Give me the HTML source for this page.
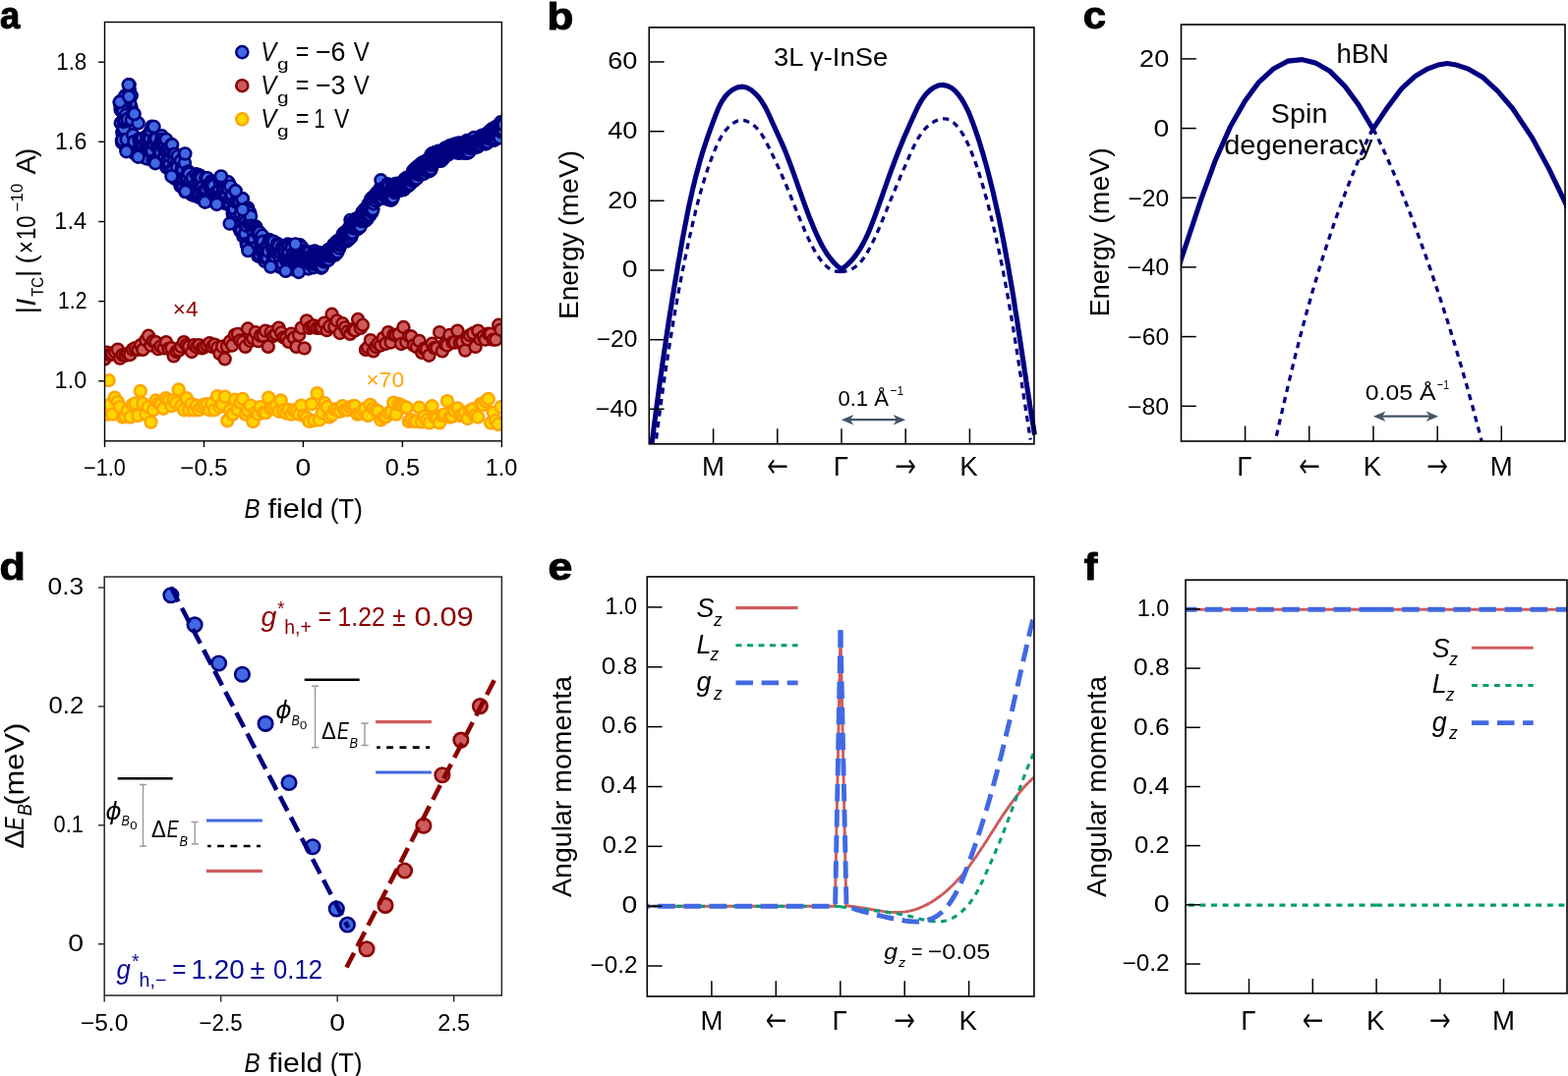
<!DOCTYPE html>
<html lang="en"><head><meta charset="utf-8"><title>Figure</title>
<style>
html,body{margin:0;padding:0;background:#fff}
svg{display:block;font-family:"Liberation Sans",Arial,sans-serif}
.i{font-style:italic}
.b{font-weight:bold}
.cb{fill:#4169e1;stroke:#000080;stroke-width:2.6}
.cr{fill:#cd5c5c;stroke:#8b0000;stroke-width:2.5}
.cy{fill:#ffd700;stroke:#ffa500;stroke-width:2.5}
</style></head>
<body>
<svg width="1595" height="1095" viewBox="0 0 1595 1095">
<rect width="1595" height="1095" fill="#fff"/>
<defs>
<clipPath id="ca"><rect x="106.5" y="22.5" width="403.9" height="426.3"/></clipPath>
<clipPath id="cb"><rect x="660.3" y="27.9" width="394.5" height="423.9"/></clipPath>
<clipPath id="cc"><rect x="1200.8" y="25.3" width="392" height="423.7"/></clipPath>
<clipPath id="ce"><rect x="658.5" y="586.7" width="393.4" height="427.3"/></clipPath>
<clipPath id="cf"><rect x="1206" y="590.1" width="387.8" height="420.8"/></clipPath>
</defs>
<g id="panel-a">
<g clip-path="url(#ca)">
<g class="cy"><circle cx="109.4" cy="421.6" r="5.95"/><circle cx="111.5" cy="411.9" r="5.95"/><circle cx="114.5" cy="421.6" r="5.95"/><circle cx="116.7" cy="404.6" r="5.95"/><circle cx="119.8" cy="409.1" r="5.95"/><circle cx="122.1" cy="414.1" r="5.95"/><circle cx="124.7" cy="424.5" r="5.95"/><circle cx="127.2" cy="423.6" r="5.95"/><circle cx="129.8" cy="417.8" r="5.95"/><circle cx="132.6" cy="424.5" r="5.95"/><circle cx="134.8" cy="411.9" r="5.95"/><circle cx="137.5" cy="410.4" r="5.95"/><circle cx="140.4" cy="423" r="5.95"/><circle cx="142.8" cy="398" r="5.95"/><circle cx="145.4" cy="410.7" r="5.95"/><circle cx="148.4" cy="421.1" r="5.95"/><circle cx="150.9" cy="414.1" r="5.95"/><circle cx="153.5" cy="429.6" r="5.95"/><circle cx="156" cy="417.2" r="5.95"/><circle cx="158.5" cy="407.5" r="5.95"/><circle cx="161.4" cy="410.4" r="5.95"/><circle cx="163.7" cy="411.6" r="5.95"/><circle cx="166.2" cy="415.7" r="5.95"/><circle cx="168.8" cy="405.3" r="5.95"/><circle cx="171.5" cy="407.4" r="5.95"/><circle cx="174.4" cy="413.2" r="5.95"/><circle cx="176.6" cy="407.3" r="5.95"/><circle cx="179.2" cy="409.9" r="5.95"/><circle cx="181.7" cy="396.5" r="5.95"/><circle cx="184.4" cy="413" r="5.95"/><circle cx="187.1" cy="417.2" r="5.95"/><circle cx="189.7" cy="405.3" r="5.95"/><circle cx="192.3" cy="417.2" r="5.95"/><circle cx="194.7" cy="411.1" r="5.95"/><circle cx="197.4" cy="417.2" r="5.95"/><circle cx="200.1" cy="412.6" r="5.95"/><circle cx="202.5" cy="417.2" r="5.95"/><circle cx="205.1" cy="413.8" r="5.95"/><circle cx="207.7" cy="411.6" r="5.95"/><circle cx="210.7" cy="411.2" r="5.95"/><circle cx="213.2" cy="417.2" r="5.95"/><circle cx="215.6" cy="410.6" r="5.95"/><circle cx="218.2" cy="417.2" r="5.95"/><circle cx="221.1" cy="403.1" r="5.95"/><circle cx="223.5" cy="414.1" r="5.95"/><circle cx="226" cy="411.6" r="5.95"/><circle cx="228.9" cy="403.8" r="5.95"/><circle cx="231.3" cy="428.2" r="5.95"/><circle cx="233.9" cy="417.5" r="5.95"/><circle cx="236.8" cy="421.6" r="5.95"/><circle cx="239.1" cy="406.8" r="5.95"/><circle cx="241.7" cy="416.8" r="5.95"/><circle cx="244.4" cy="409.8" r="5.95"/><circle cx="246.8" cy="406" r="5.95"/><circle cx="249.7" cy="421.6" r="5.95"/><circle cx="251.9" cy="417.8" r="5.95"/><circle cx="254.8" cy="412.6" r="5.95"/><circle cx="257.4" cy="428.9" r="5.95"/><circle cx="259.8" cy="419.6" r="5.95"/><circle cx="262.4" cy="421.6" r="5.95"/><circle cx="264.8" cy="414.1" r="5.95"/><circle cx="268" cy="420" r="5.95"/><circle cx="270.2" cy="420.1" r="5.95"/><circle cx="273.2" cy="404.6" r="5.95"/><circle cx="275.3" cy="416" r="5.95"/><circle cx="277.8" cy="414.6" r="5.95"/><circle cx="280.8" cy="413.2" r="5.95"/><circle cx="283.6" cy="418.7" r="5.95"/><circle cx="285.7" cy="407.5" r="5.95"/><circle cx="288.2" cy="417.8" r="5.95"/><circle cx="290.9" cy="420.3" r="5.95"/><circle cx="293.6" cy="417" r="5.95"/><circle cx="296.3" cy="421.6" r="5.95"/><circle cx="298.9" cy="417.4" r="5.95"/><circle cx="301.3" cy="419.3" r="5.95"/><circle cx="304.1" cy="421.6" r="5.95"/><circle cx="306.4" cy="412.6" r="5.95"/><circle cx="309.3" cy="423.1" r="5.95"/><circle cx="312.1" cy="425.1" r="5.95"/><circle cx="314.6" cy="428.9" r="5.95"/><circle cx="317" cy="411.2" r="5.95"/><circle cx="319.7" cy="427.9" r="5.95"/><circle cx="322.6" cy="400.2" r="5.95"/><circle cx="324.9" cy="427.4" r="5.95"/><circle cx="327.7" cy="420.2" r="5.95"/><circle cx="330.3" cy="410.2" r="5.95"/><circle cx="332.9" cy="414.1" r="5.95"/><circle cx="335" cy="424.5" r="5.95"/><circle cx="337.7" cy="422.5" r="5.95"/><circle cx="340.4" cy="416.5" r="5.95"/><circle cx="343.2" cy="416.4" r="5.95"/><circle cx="345.8" cy="418.7" r="5.95"/><circle cx="348.4" cy="413.3" r="5.95"/><circle cx="350.6" cy="417.3" r="5.95"/><circle cx="353.4" cy="417.3" r="5.95"/><circle cx="356.2" cy="414.4" r="5.95"/><circle cx="358.9" cy="413.3" r="5.95"/><circle cx="361.1" cy="413.3" r="5.95"/><circle cx="363.6" cy="421.6" r="5.95"/><circle cx="366.5" cy="420.8" r="5.95"/><circle cx="369.2" cy="417.9" r="5.95"/><circle cx="371.5" cy="415.7" r="5.95"/><circle cx="374.4" cy="423" r="5.95"/><circle cx="376.7" cy="411.9" r="5.95"/><circle cx="379.5" cy="415.3" r="5.95"/><circle cx="382.3" cy="417.1" r="5.95"/><circle cx="384.8" cy="418.5" r="5.95"/><circle cx="387.4" cy="427.4" r="5.95"/><circle cx="390.2" cy="424.5" r="5.95"/><circle cx="392.6" cy="424.1" r="5.95"/><circle cx="395.3" cy="420.3" r="5.95"/><circle cx="397.9" cy="418.7" r="5.95"/><circle cx="400.3" cy="409.7" r="5.95"/><circle cx="403" cy="421.6" r="5.95"/><circle cx="405.6" cy="411.3" r="5.95"/><circle cx="408.3" cy="412.4" r="5.95"/><circle cx="410.7" cy="413.7" r="5.95"/><circle cx="413.5" cy="414.8" r="5.95"/><circle cx="415.8" cy="428.9" r="5.95"/><circle cx="418.2" cy="427.2" r="5.95"/><circle cx="421.3" cy="428.9" r="5.95"/><circle cx="423.7" cy="428.9" r="5.95"/><circle cx="426.4" cy="414.8" r="5.95"/><circle cx="428.9" cy="429.3" r="5.95"/><circle cx="431.4" cy="423.8" r="5.95"/><circle cx="433.9" cy="427.5" r="5.95"/><circle cx="436.8" cy="430.4" r="5.95"/><circle cx="439.5" cy="413.3" r="5.95"/><circle cx="442.2" cy="424.5" r="5.95"/><circle cx="444.5" cy="425.8" r="5.95"/><circle cx="447.1" cy="430.4" r="5.95"/><circle cx="449.7" cy="422.7" r="5.95"/><circle cx="452" cy="421.7" r="5.95"/><circle cx="455" cy="408.2" r="5.95"/><circle cx="457.4" cy="424.5" r="5.95"/><circle cx="459.9" cy="423.9" r="5.95"/><circle cx="462.4" cy="418.1" r="5.95"/><circle cx="465.6" cy="415.5" r="5.95"/><circle cx="467.8" cy="423" r="5.95"/><circle cx="470.5" cy="422.2" r="5.95"/><circle cx="472.8" cy="419.9" r="5.95"/><circle cx="475.6" cy="426" r="5.95"/><circle cx="478.3" cy="417.7" r="5.95"/><circle cx="480.7" cy="416.3" r="5.95"/><circle cx="483.3" cy="422.8" r="5.95"/><circle cx="486.2" cy="424.5" r="5.95"/><circle cx="488.9" cy="411.2" r="5.95"/><circle cx="491.1" cy="412.1" r="5.95"/><circle cx="494.1" cy="408.3" r="5.95"/><circle cx="496.8" cy="406" r="5.95"/><circle cx="499.2" cy="430.4" r="5.95"/><circle cx="501.7" cy="419.6" r="5.95"/><circle cx="504.1" cy="427.9" r="5.95"/><circle cx="506.7" cy="431.8" r="5.95"/><circle cx="509.7" cy="414.1" r="5.95"/><circle cx="110.6" cy="387.1" r="5.95"/></g>
<g class="cr"><circle cx="106.5" cy="365.3" r="5.95"/><circle cx="108.9" cy="358.6" r="5.95"/><circle cx="111.9" cy="361.1" r="5.95"/><circle cx="114.2" cy="360.2" r="5.95"/><circle cx="117.1" cy="358.1" r="5.95"/><circle cx="119.8" cy="355.6" r="5.95"/><circle cx="122" cy="364.6" r="5.95"/><circle cx="124.6" cy="361.1" r="5.95"/><circle cx="127.6" cy="361.7" r="5.95"/><circle cx="130" cy="360" r="5.95"/><circle cx="132.3" cy="361" r="5.95"/><circle cx="134.9" cy="355.6" r="5.95"/><circle cx="137.5" cy="354.1" r="5.95"/><circle cx="140.5" cy="355.7" r="5.95"/><circle cx="143.1" cy="351.2" r="5.95"/><circle cx="145.3" cy="355.8" r="5.95"/><circle cx="148.3" cy="346.2" r="5.95"/><circle cx="151" cy="341.8" r="5.95"/><circle cx="153.4" cy="351.5" r="5.95"/><circle cx="155.8" cy="347.2" r="5.95"/><circle cx="158.5" cy="348.2" r="5.95"/><circle cx="160.9" cy="355.1" r="5.95"/><circle cx="163.4" cy="352.5" r="5.95"/><circle cx="166.6" cy="354.4" r="5.95"/><circle cx="169" cy="348.2" r="5.95"/><circle cx="171.5" cy="354.9" r="5.95"/><circle cx="174.4" cy="354.2" r="5.95"/><circle cx="176.7" cy="362.4" r="5.95"/><circle cx="179.5" cy="357.8" r="5.95"/><circle cx="182.1" cy="356.4" r="5.95"/><circle cx="184.3" cy="352.8" r="5.95"/><circle cx="187" cy="348.2" r="5.95"/><circle cx="189.6" cy="351.2" r="5.95"/><circle cx="192.1" cy="352.8" r="5.95"/><circle cx="195" cy="358" r="5.95"/><circle cx="197.4" cy="351.2" r="5.95"/><circle cx="200.1" cy="353.2" r="5.95"/><circle cx="202.5" cy="351.2" r="5.95"/><circle cx="205.5" cy="354.4" r="5.95"/><circle cx="207.8" cy="353.2" r="5.95"/><circle cx="210.5" cy="351.3" r="5.95"/><circle cx="213.2" cy="349.1" r="5.95"/><circle cx="215.9" cy="352.8" r="5.95"/><circle cx="218.3" cy="350.7" r="5.95"/><circle cx="221.2" cy="353.9" r="5.95"/><circle cx="223.5" cy="359.9" r="5.95"/><circle cx="226.1" cy="352.7" r="5.95"/><circle cx="228.7" cy="365.3" r="5.95"/><circle cx="231" cy="352.6" r="5.95"/><circle cx="233.9" cy="347.5" r="5.95"/><circle cx="236.3" cy="351.5" r="5.95"/><circle cx="238.8" cy="341" r="5.95"/><circle cx="241.9" cy="339.9" r="5.95"/><circle cx="244.1" cy="346.5" r="5.95"/><circle cx="246.9" cy="348" r="5.95"/><circle cx="249.6" cy="352.8" r="5.95"/><circle cx="252.1" cy="334.5" r="5.95"/><circle cx="254.6" cy="347" r="5.95"/><circle cx="257.3" cy="344.3" r="5.95"/><circle cx="259.9" cy="338.2" r="5.95"/><circle cx="262.7" cy="347.1" r="5.95"/><circle cx="264.9" cy="341.7" r="5.95"/><circle cx="267.7" cy="341.6" r="5.95"/><circle cx="270.1" cy="336.6" r="5.95"/><circle cx="272.8" cy="352.8" r="5.95"/><circle cx="275.7" cy="338" r="5.95"/><circle cx="278.1" cy="341.8" r="5.95"/><circle cx="280.7" cy="339.8" r="5.95"/><circle cx="283.5" cy="333.7" r="5.95"/><circle cx="286.1" cy="338.5" r="5.95"/><circle cx="288.5" cy="343.4" r="5.95"/><circle cx="291.2" cy="344.2" r="5.95"/><circle cx="293.7" cy="347.8" r="5.95"/><circle cx="296.3" cy="339.6" r="5.95"/><circle cx="299" cy="343.8" r="5.95"/><circle cx="301.5" cy="352.8" r="5.95"/><circle cx="304.1" cy="341" r="5.95"/><circle cx="306.7" cy="333.7" r="5.95"/><circle cx="309.6" cy="354.4" r="5.95"/><circle cx="312" cy="326.4" r="5.95"/><circle cx="314.7" cy="333.8" r="5.95"/><circle cx="317.4" cy="332.3" r="5.95"/><circle cx="319.6" cy="331.5" r="5.95"/><circle cx="322.3" cy="333.8" r="5.95"/><circle cx="325.2" cy="333.6" r="5.95"/><circle cx="327.7" cy="333.8" r="5.95"/><circle cx="329.9" cy="328.6" r="5.95"/><circle cx="332.5" cy="336.1" r="5.95"/><circle cx="335.3" cy="332.2" r="5.95"/><circle cx="337.6" cy="319.8" r="5.95"/><circle cx="340.3" cy="332.5" r="5.95"/><circle cx="342.8" cy="326.5" r="5.95"/><circle cx="345.8" cy="339" r="5.95"/><circle cx="348.5" cy="329.3" r="5.95"/><circle cx="351.1" cy="333.4" r="5.95"/><circle cx="353.3" cy="337.5" r="5.95"/><circle cx="356.2" cy="339.8" r="5.95"/><circle cx="358.8" cy="335.2" r="5.95"/><circle cx="361.1" cy="336.3" r="5.95"/><circle cx="364.1" cy="325" r="5.95"/><circle cx="366.8" cy="333.9" r="5.95"/><circle cx="368.9" cy="330.8" r="5.95"/><circle cx="372" cy="355.8" r="5.95"/><circle cx="374.2" cy="353.5" r="5.95"/><circle cx="376.9" cy="346.1" r="5.95"/><circle cx="379.8" cy="357.3" r="5.95"/><circle cx="382.3" cy="352.8" r="5.95"/><circle cx="384.5" cy="349.8" r="5.95"/><circle cx="387.3" cy="351.5" r="5.95"/><circle cx="389.9" cy="343.9" r="5.95"/><circle cx="392.4" cy="349.7" r="5.95"/><circle cx="394.9" cy="338.1" r="5.95"/><circle cx="397.6" cy="348.5" r="5.95"/><circle cx="400.4" cy="340.7" r="5.95"/><circle cx="402.6" cy="341" r="5.95"/><circle cx="405.5" cy="340.2" r="5.95"/><circle cx="408.1" cy="350" r="5.95"/><circle cx="410.4" cy="333" r="5.95"/><circle cx="413.2" cy="348.1" r="5.95"/><circle cx="416" cy="342" r="5.95"/><circle cx="418.5" cy="342.5" r="5.95"/><circle cx="420.8" cy="351.5" r="5.95"/><circle cx="424" cy="353.2" r="5.95"/><circle cx="426.5" cy="346.9" r="5.95"/><circle cx="429.2" cy="358.8" r="5.95"/><circle cx="431.3" cy="354.9" r="5.95"/><circle cx="434" cy="355.4" r="5.95"/><circle cx="436.4" cy="361.7" r="5.95"/><circle cx="439.5" cy="349.8" r="5.95"/><circle cx="441.8" cy="354.1" r="5.95"/><circle cx="444.3" cy="354.1" r="5.95"/><circle cx="447.1" cy="338.1" r="5.95"/><circle cx="449.9" cy="357.3" r="5.95"/><circle cx="452.5" cy="350" r="5.95"/><circle cx="454.8" cy="351.4" r="5.95"/><circle cx="457.3" cy="341" r="5.95"/><circle cx="460.4" cy="348.5" r="5.95"/><circle cx="462.7" cy="348.5" r="5.95"/><circle cx="465.4" cy="336.6" r="5.95"/><circle cx="467.7" cy="348.9" r="5.95"/><circle cx="470.2" cy="348.2" r="5.95"/><circle cx="473.2" cy="356.6" r="5.95"/><circle cx="475.7" cy="345.4" r="5.95"/><circle cx="478" cy="341.2" r="5.95"/><circle cx="481.2" cy="339.3" r="5.95"/><circle cx="483.6" cy="352.9" r="5.95"/><circle cx="486.3" cy="336.6" r="5.95"/><circle cx="488.5" cy="345.1" r="5.95"/><circle cx="491.5" cy="342.5" r="5.95"/><circle cx="493.6" cy="345.6" r="5.95"/><circle cx="496.7" cy="339.6" r="5.95"/><circle cx="499.1" cy="339.9" r="5.95"/><circle cx="501.6" cy="345.6" r="5.95"/><circle cx="504.3" cy="345.6" r="5.95"/><circle cx="507.2" cy="330.8" r="5.95"/><circle cx="509.4" cy="335.6" r="5.95"/></g>
<g class="cb"><circle cx="127.3" cy="111.2" r="5.95"/><circle cx="124.6" cy="113.7" r="5.95"/><circle cx="131.6" cy="113.8" r="5.95"/><circle cx="127.1" cy="135.9" r="5.95"/><circle cx="129" cy="148.9" r="5.95"/><circle cx="128.4" cy="122.5" r="5.95"/><circle cx="129.9" cy="112.1" r="5.95"/><circle cx="133.3" cy="120.1" r="5.95"/><circle cx="127.2" cy="135.8" r="5.95"/><circle cx="124.3" cy="134.7" r="5.95"/><circle cx="132.7" cy="118.3" r="5.95"/><circle cx="133.9" cy="128" r="5.95"/><circle cx="131.8" cy="124.9" r="5.95"/><circle cx="127.3" cy="114.7" r="5.95"/><circle cx="122.6" cy="111.4" r="5.95"/><circle cx="134.4" cy="128.2" r="5.95"/><circle cx="128" cy="146.9" r="5.95"/><circle cx="129.8" cy="150.8" r="5.95"/><circle cx="126.8" cy="112" r="5.95"/><circle cx="133.5" cy="109.2" r="5.95"/><circle cx="132" cy="131.4" r="5.95"/><circle cx="134.3" cy="149.1" r="5.95"/><circle cx="130.4" cy="102.9" r="5.95"/><circle cx="122.8" cy="125.2" r="5.95"/><circle cx="132.3" cy="105.1" r="5.95"/><circle cx="127.6" cy="105.4" r="5.95"/><circle cx="126.2" cy="101.3" r="5.95"/><circle cx="126.5" cy="127.7" r="5.95"/><circle cx="124.9" cy="141.1" r="5.95"/><circle cx="123.2" cy="111.8" r="5.95"/><circle cx="125.6" cy="121.6" r="5.95"/><circle cx="131.7" cy="119" r="5.95"/><circle cx="130.8" cy="148" r="5.95"/><circle cx="124.1" cy="145.1" r="5.95"/><circle cx="129.7" cy="139.1" r="5.95"/><circle cx="129.8" cy="121.8" r="5.95"/><circle cx="123.7" cy="108.3" r="5.95"/><circle cx="124.6" cy="110.1" r="5.95"/><circle cx="124.2" cy="111.6" r="5.95"/><circle cx="129.2" cy="140.3" r="5.95"/><circle cx="132.1" cy="144.2" r="5.95"/><circle cx="123.9" cy="142.9" r="5.95"/><circle cx="124.7" cy="104.7" r="5.95"/><circle cx="126" cy="130.9" r="5.95"/><circle cx="123.1" cy="112" r="5.95"/><circle cx="121.7" cy="104.3" r="5.95"/><circle cx="122" cy="103.8" r="5.95"/><circle cx="122.3" cy="104.7" r="5.95"/><circle cx="122.9" cy="109.3" r="5.95"/><circle cx="123.6" cy="102.3" r="5.95"/><circle cx="124.1" cy="111.5" r="5.95"/><circle cx="124.6" cy="142.7" r="5.95"/><circle cx="124.9" cy="108.8" r="5.95"/><circle cx="125.5" cy="113.5" r="5.95"/><circle cx="125.9" cy="123.9" r="5.95"/><circle cx="126.7" cy="120" r="5.95"/><circle cx="126.9" cy="122.3" r="5.95"/><circle cx="127.4" cy="97.3" r="5.95"/><circle cx="128.2" cy="116.8" r="5.95"/><circle cx="128.4" cy="152.4" r="5.95"/><circle cx="128.8" cy="141.9" r="5.95"/><circle cx="129.5" cy="121.2" r="5.95"/><circle cx="129.9" cy="121.2" r="5.95"/><circle cx="130.5" cy="152.7" r="5.95"/><circle cx="130.9" cy="94.5" r="5.95"/><circle cx="131.6" cy="86.3" r="5.95"/><circle cx="131.9" cy="91.8" r="5.95"/><circle cx="132.4" cy="153.7" r="5.95"/><circle cx="133" cy="97.3" r="5.95"/><circle cx="133.7" cy="97.3" r="5.95"/><circle cx="133.9" cy="121.7" r="5.95"/><circle cx="134.5" cy="154.7" r="5.95"/><circle cx="135.2" cy="137.3" r="5.95"/><circle cx="135.4" cy="115.3" r="5.95"/><circle cx="136" cy="146.2" r="5.95"/><circle cx="136.5" cy="144" r="5.95"/><circle cx="137.1" cy="155.9" r="5.95"/><circle cx="137.4" cy="156.2" r="5.95"/><circle cx="137.9" cy="156.5" r="5.95"/><circle cx="138.6" cy="154.3" r="5.95"/><circle cx="139" cy="156.6" r="5.95"/><circle cx="139.6" cy="157.7" r="5.95"/><circle cx="140" cy="157.7" r="5.95"/><circle cx="140.6" cy="125.3" r="5.95"/><circle cx="141.1" cy="155.5" r="5.95"/><circle cx="141.4" cy="141.4" r="5.95"/><circle cx="141.9" cy="143.5" r="5.95"/><circle cx="142.4" cy="145" r="5.95"/><circle cx="143" cy="148.5" r="5.95"/><circle cx="143.4" cy="143.1" r="5.95"/><circle cx="144.1" cy="145.1" r="5.95"/><circle cx="144.7" cy="144.5" r="5.95"/><circle cx="145.1" cy="141.1" r="5.95"/><circle cx="145.4" cy="148.2" r="5.95"/><circle cx="145.9" cy="157.6" r="5.95"/><circle cx="146.4" cy="154" r="5.95"/><circle cx="147" cy="156.6" r="5.95"/><circle cx="147.4" cy="160.6" r="5.95"/><circle cx="148.1" cy="145.5" r="5.95"/><circle cx="148.7" cy="157.1" r="5.95"/><circle cx="149" cy="143" r="5.95"/><circle cx="149.3" cy="138.3" r="5.95"/><circle cx="150.1" cy="161.6" r="5.95"/><circle cx="150.3" cy="149.3" r="5.95"/><circle cx="151.1" cy="151.2" r="5.95"/><circle cx="151.7" cy="137.3" r="5.95"/><circle cx="152.2" cy="153.6" r="5.95"/><circle cx="152.6" cy="141.5" r="5.95"/><circle cx="153" cy="154.1" r="5.95"/><circle cx="153.3" cy="132.7" r="5.95"/><circle cx="154.1" cy="153.6" r="5.95"/><circle cx="154.5" cy="128.7" r="5.95"/><circle cx="154.9" cy="154.1" r="5.95"/><circle cx="155.7" cy="163.4" r="5.95"/><circle cx="156.1" cy="145.4" r="5.95"/><circle cx="156.6" cy="146.6" r="5.95"/><circle cx="156.9" cy="141.3" r="5.95"/><circle cx="157.5" cy="163.7" r="5.95"/><circle cx="158" cy="141.9" r="5.95"/><circle cx="158.5" cy="163.9" r="5.95"/><circle cx="158.9" cy="141" r="5.95"/><circle cx="159.6" cy="164" r="5.95"/><circle cx="159.9" cy="149.9" r="5.95"/><circle cx="160.6" cy="150" r="5.95"/><circle cx="160.9" cy="160.3" r="5.95"/><circle cx="161.6" cy="149.7" r="5.95"/><circle cx="161.9" cy="148" r="5.95"/><circle cx="162.5" cy="156.5" r="5.95"/><circle cx="163" cy="152.1" r="5.95"/><circle cx="163.4" cy="155" r="5.95"/><circle cx="163.9" cy="143.9" r="5.95"/><circle cx="164.6" cy="138.3" r="5.95"/><circle cx="164.8" cy="142" r="5.95"/><circle cx="165.4" cy="164.7" r="5.95"/><circle cx="166.1" cy="144.5" r="5.95"/><circle cx="166.5" cy="151" r="5.95"/><circle cx="166.9" cy="148.8" r="5.95"/><circle cx="167.6" cy="158.5" r="5.95"/><circle cx="168.2" cy="147.8" r="5.95"/><circle cx="168.4" cy="153.6" r="5.95"/><circle cx="169" cy="141.9" r="5.95"/><circle cx="169.4" cy="170.3" r="5.95"/><circle cx="170" cy="152.6" r="5.95"/><circle cx="170.6" cy="163.3" r="5.95"/><circle cx="171.1" cy="152.5" r="5.95"/><circle cx="171.5" cy="168.4" r="5.95"/><circle cx="172.2" cy="150.1" r="5.95"/><circle cx="172.6" cy="166.9" r="5.95"/><circle cx="172.9" cy="159.1" r="5.95"/><circle cx="173.5" cy="173.6" r="5.95"/><circle cx="173.9" cy="154.9" r="5.95"/><circle cx="174.4" cy="147.3" r="5.95"/><circle cx="175.1" cy="147.3" r="5.95"/><circle cx="175.6" cy="177.7" r="5.95"/><circle cx="176.1" cy="157.2" r="5.95"/><circle cx="176.4" cy="171.5" r="5.95"/><circle cx="177" cy="163.1" r="5.95"/><circle cx="177.6" cy="181.2" r="5.95"/><circle cx="178.1" cy="156.7" r="5.95"/><circle cx="178.6" cy="182.2" r="5.95"/><circle cx="179" cy="167.4" r="5.95"/><circle cx="179.7" cy="179.3" r="5.95"/><circle cx="180" cy="170" r="5.95"/><circle cx="180.3" cy="170.4" r="5.95"/><circle cx="180.9" cy="158.9" r="5.95"/><circle cx="181.3" cy="179.2" r="5.95"/><circle cx="182" cy="178.3" r="5.95"/><circle cx="182.5" cy="182.1" r="5.95"/><circle cx="183" cy="176.7" r="5.95"/><circle cx="183.6" cy="189.4" r="5.95"/><circle cx="184" cy="163.5" r="5.95"/><circle cx="184.4" cy="184.3" r="5.95"/><circle cx="185" cy="171" r="5.95"/><circle cx="185.3" cy="187.4" r="5.95"/><circle cx="186.1" cy="172.7" r="5.95"/><circle cx="186.4" cy="189.4" r="5.95"/><circle cx="186.9" cy="182.2" r="5.95"/><circle cx="187.6" cy="157.1" r="5.95"/><circle cx="187.9" cy="165.8" r="5.95"/><circle cx="188.4" cy="195.1" r="5.95"/><circle cx="188.9" cy="179.8" r="5.95"/><circle cx="189.6" cy="187.4" r="5.95"/><circle cx="190.2" cy="186.6" r="5.95"/><circle cx="190.6" cy="180.8" r="5.95"/><circle cx="191" cy="188.3" r="5.95"/><circle cx="191.5" cy="174.4" r="5.95"/><circle cx="191.8" cy="188.8" r="5.95"/><circle cx="192.3" cy="176.7" r="5.95"/><circle cx="193.1" cy="195" r="5.95"/><circle cx="193.4" cy="186" r="5.95"/><circle cx="194.1" cy="193.8" r="5.95"/><circle cx="194.6" cy="197.7" r="5.95"/><circle cx="195.1" cy="189.2" r="5.95"/><circle cx="195.5" cy="198" r="5.95"/><circle cx="195.9" cy="180.5" r="5.95"/><circle cx="196.7" cy="198.4" r="5.95"/><circle cx="197.1" cy="189.7" r="5.95"/><circle cx="197.5" cy="198.8" r="5.95"/><circle cx="197.9" cy="193.8" r="5.95"/><circle cx="198.7" cy="199.1" r="5.95"/><circle cx="198.9" cy="192.1" r="5.95"/><circle cx="199.4" cy="177.3" r="5.95"/><circle cx="200.1" cy="190.8" r="5.95"/><circle cx="200.6" cy="199.7" r="5.95"/><circle cx="201.1" cy="193.4" r="5.95"/><circle cx="201.6" cy="200.4" r="5.95"/><circle cx="201.9" cy="178.1" r="5.95"/><circle cx="202.4" cy="198.4" r="5.95"/><circle cx="203.2" cy="183.5" r="5.95"/><circle cx="203.5" cy="192.2" r="5.95"/><circle cx="203.8" cy="179" r="5.95"/><circle cx="204.7" cy="201.7" r="5.95"/><circle cx="204.9" cy="180.8" r="5.95"/><circle cx="205.5" cy="200.9" r="5.95"/><circle cx="205.8" cy="190.7" r="5.95"/><circle cx="206.5" cy="202.5" r="5.95"/><circle cx="206.9" cy="201.2" r="5.95"/><circle cx="207.4" cy="203" r="5.95"/><circle cx="207.9" cy="193.6" r="5.95"/><circle cx="208.7" cy="194.1" r="5.95"/><circle cx="209.1" cy="194.7" r="5.95"/><circle cx="209.3" cy="181.3" r="5.95"/><circle cx="209.9" cy="192.5" r="5.95"/><circle cx="210.5" cy="203.9" r="5.95"/><circle cx="210.9" cy="181.2" r="5.95"/><circle cx="211.6" cy="204.2" r="5.95"/><circle cx="211.9" cy="188.2" r="5.95"/><circle cx="212.5" cy="204.3" r="5.95"/><circle cx="212.9" cy="189.1" r="5.95"/><circle cx="213.6" cy="202.2" r="5.95"/><circle cx="214.1" cy="190.1" r="5.95"/><circle cx="214.4" cy="194.1" r="5.95"/><circle cx="215" cy="184.6" r="5.95"/><circle cx="215.4" cy="194.2" r="5.95"/><circle cx="215.8" cy="187" r="5.95"/><circle cx="216.7" cy="197.2" r="5.95"/><circle cx="217.1" cy="189.1" r="5.95"/><circle cx="217.3" cy="203.5" r="5.95"/><circle cx="218" cy="197.6" r="5.95"/><circle cx="218.6" cy="204.5" r="5.95"/><circle cx="219" cy="196.3" r="5.95"/><circle cx="219.6" cy="201.2" r="5.95"/><circle cx="220" cy="205.4" r="5.95"/><circle cx="220.7" cy="205.5" r="5.95"/><circle cx="221.1" cy="202" r="5.95"/><circle cx="221.3" cy="197.6" r="5.95"/><circle cx="222.1" cy="195.2" r="5.95"/><circle cx="222.4" cy="202.1" r="5.95"/><circle cx="223" cy="192.8" r="5.95"/><circle cx="223.5" cy="205.9" r="5.95"/><circle cx="224.1" cy="186.5" r="5.95"/><circle cx="224.3" cy="180.2" r="5.95"/><circle cx="225" cy="198.3" r="5.95"/><circle cx="225.4" cy="206.1" r="5.95"/><circle cx="226.1" cy="199.5" r="5.95"/><circle cx="226.7" cy="186.3" r="5.95"/><circle cx="227" cy="188.1" r="5.95"/><circle cx="227.7" cy="193.1" r="5.95"/><circle cx="228" cy="191" r="5.95"/><circle cx="228.4" cy="198.7" r="5.95"/><circle cx="229" cy="199" r="5.95"/><circle cx="229.6" cy="207.1" r="5.95"/><circle cx="230.1" cy="188.2" r="5.95"/><circle cx="230.3" cy="198" r="5.95"/><circle cx="230.9" cy="191.9" r="5.95"/><circle cx="231.5" cy="207.7" r="5.95"/><circle cx="232.2" cy="192" r="5.95"/><circle cx="232.3" cy="185.3" r="5.95"/><circle cx="233" cy="208.4" r="5.95"/><circle cx="233.4" cy="203.1" r="5.95"/><circle cx="234.1" cy="207.2" r="5.95"/><circle cx="234.5" cy="189.5" r="5.95"/><circle cx="235.1" cy="201.9" r="5.95"/><circle cx="235.4" cy="202.6" r="5.95"/><circle cx="236.2" cy="198.3" r="5.95"/><circle cx="236.7" cy="217.6" r="5.95"/><circle cx="237.1" cy="214.2" r="5.95"/><circle cx="237.4" cy="219.8" r="5.95"/><circle cx="238" cy="207.1" r="5.95"/><circle cx="238.6" cy="212.8" r="5.95"/><circle cx="239" cy="223.1" r="5.95"/><circle cx="239.5" cy="194.3" r="5.95"/><circle cx="240" cy="205.3" r="5.95"/><circle cx="240.3" cy="225.7" r="5.95"/><circle cx="241.1" cy="205.9" r="5.95"/><circle cx="241.5" cy="228.6" r="5.95"/><circle cx="242.1" cy="206.4" r="5.95"/><circle cx="242.6" cy="230.8" r="5.95"/><circle cx="242.9" cy="203.3" r="5.95"/><circle cx="243.7" cy="230.6" r="5.95"/><circle cx="243.8" cy="206.5" r="5.95"/><circle cx="244.5" cy="235.2" r="5.95"/><circle cx="244.8" cy="217.3" r="5.95"/><circle cx="245.7" cy="234.1" r="5.95"/><circle cx="245.8" cy="211.4" r="5.95"/><circle cx="246.7" cy="202.3" r="5.95"/><circle cx="246.8" cy="202.3" r="5.95"/><circle cx="247.5" cy="240.7" r="5.95"/><circle cx="247.8" cy="223.7" r="5.95"/><circle cx="248.6" cy="228.4" r="5.95"/><circle cx="248.9" cy="238.4" r="5.95"/><circle cx="249.5" cy="237.9" r="5.95"/><circle cx="249.8" cy="226" r="5.95"/><circle cx="250.7" cy="248.1" r="5.95"/><circle cx="251.1" cy="229.9" r="5.95"/><circle cx="251.5" cy="250.3" r="5.95"/><circle cx="252" cy="211.5" r="5.95"/><circle cx="252.6" cy="214.1" r="5.95"/><circle cx="253.2" cy="227" r="5.95"/><circle cx="253.6" cy="254.3" r="5.95"/><circle cx="254.2" cy="216.7" r="5.95"/><circle cx="254.5" cy="227.8" r="5.95"/><circle cx="255.1" cy="220.1" r="5.95"/><circle cx="255.5" cy="229.7" r="5.95"/><circle cx="256.2" cy="247.7" r="5.95"/><circle cx="256.6" cy="232.4" r="5.95"/><circle cx="256.8" cy="232.4" r="5.95"/><circle cx="257.5" cy="244" r="5.95"/><circle cx="257.9" cy="236.4" r="5.95"/><circle cx="258.4" cy="243.2" r="5.95"/><circle cx="259.2" cy="230.8" r="5.95"/><circle cx="259.5" cy="251.9" r="5.95"/><circle cx="260" cy="230.4" r="5.95"/><circle cx="260.7" cy="251.9" r="5.95"/><circle cx="260.9" cy="232.8" r="5.95"/><circle cx="261.4" cy="235.3" r="5.95"/><circle cx="262.1" cy="238.2" r="5.95"/><circle cx="262.6" cy="260.7" r="5.95"/><circle cx="263" cy="236" r="5.95"/><circle cx="263.7" cy="255.1" r="5.95"/><circle cx="264" cy="236.7" r="5.95"/><circle cx="264.6" cy="259.9" r="5.95"/><circle cx="264.9" cy="246.4" r="5.95"/><circle cx="265.5" cy="254.4" r="5.95"/><circle cx="265.9" cy="246.6" r="5.95"/><circle cx="266.4" cy="253.3" r="5.95"/><circle cx="266.8" cy="239.7" r="5.95"/><circle cx="267.4" cy="245.8" r="5.95"/><circle cx="268" cy="254.1" r="5.95"/><circle cx="268.5" cy="260.7" r="5.95"/><circle cx="269.2" cy="253.6" r="5.95"/><circle cx="269.4" cy="265.8" r="5.95"/><circle cx="270.2" cy="261.8" r="5.95"/><circle cx="270.5" cy="262.5" r="5.95"/><circle cx="271.1" cy="251" r="5.95"/><circle cx="271.5" cy="257.7" r="5.95"/><circle cx="272.2" cy="262.8" r="5.95"/><circle cx="272.3" cy="250.7" r="5.95"/><circle cx="272.9" cy="250.3" r="5.95"/><circle cx="273.3" cy="255.9" r="5.95"/><circle cx="273.9" cy="243.9" r="5.95"/><circle cx="274.5" cy="244.8" r="5.95"/><circle cx="275.2" cy="244.9" r="5.95"/><circle cx="275.5" cy="269.7" r="5.95"/><circle cx="276" cy="247.3" r="5.95"/><circle cx="276.3" cy="269.5" r="5.95"/><circle cx="277.1" cy="252.6" r="5.95"/><circle cx="277.7" cy="260.8" r="5.95"/><circle cx="277.8" cy="250.4" r="5.95"/><circle cx="278.5" cy="245.8" r="5.95"/><circle cx="278.9" cy="256.8" r="5.95"/><circle cx="279.7" cy="261.6" r="5.95"/><circle cx="280" cy="264.9" r="5.95"/><circle cx="280.3" cy="262.8" r="5.95"/><circle cx="281.1" cy="256.8" r="5.95"/><circle cx="281.3" cy="252.4" r="5.95"/><circle cx="282.1" cy="248" r="5.95"/><circle cx="282.4" cy="257.8" r="5.95"/><circle cx="283.1" cy="249.3" r="5.95"/><circle cx="283.7" cy="249.8" r="5.95"/><circle cx="283.9" cy="257.8" r="5.95"/><circle cx="284.5" cy="271.5" r="5.95"/><circle cx="285" cy="262.6" r="5.95"/><circle cx="285.7" cy="271.7" r="5.95"/><circle cx="286.1" cy="258" r="5.95"/><circle cx="286.6" cy="271.9" r="5.95"/><circle cx="287.2" cy="251.5" r="5.95"/><circle cx="287.5" cy="268.3" r="5.95"/><circle cx="288" cy="254.1" r="5.95"/><circle cx="288.4" cy="252.7" r="5.95"/><circle cx="288.9" cy="261.8" r="5.95"/><circle cx="289.5" cy="256.8" r="5.95"/><circle cx="290" cy="255.6" r="5.95"/><circle cx="290.4" cy="250.2" r="5.95"/><circle cx="291" cy="264.9" r="5.95"/><circle cx="291.7" cy="260" r="5.95"/><circle cx="291.9" cy="263.4" r="5.95"/><circle cx="292.7" cy="248.6" r="5.95"/><circle cx="292.9" cy="263" r="5.95"/><circle cx="293.7" cy="250" r="5.95"/><circle cx="294" cy="257.2" r="5.95"/><circle cx="294.5" cy="264.1" r="5.95"/><circle cx="295" cy="266.5" r="5.95"/><circle cx="295.3" cy="273.7" r="5.95"/><circle cx="295.9" cy="263.5" r="5.95"/><circle cx="296.5" cy="249.3" r="5.95"/><circle cx="297" cy="252.3" r="5.95"/><circle cx="297.3" cy="274" r="5.95"/><circle cx="298.2" cy="260.5" r="5.95"/><circle cx="298.4" cy="264.4" r="5.95"/><circle cx="299.1" cy="257.3" r="5.95"/><circle cx="299.6" cy="269.8" r="5.95"/><circle cx="299.9" cy="264.8" r="5.95"/><circle cx="300" cy="263.7" r="5.95"/><circle cx="300.2" cy="264.5" r="5.95"/><circle cx="300.6" cy="262.4" r="5.95"/><circle cx="300.8" cy="270.4" r="5.95"/><circle cx="301" cy="267.1" r="5.95"/><circle cx="301.1" cy="261.8" r="5.95"/><circle cx="301.2" cy="265.1" r="5.95"/><circle cx="301.6" cy="258.7" r="5.95"/><circle cx="301.6" cy="261.4" r="5.95"/><circle cx="302" cy="256.9" r="5.95"/><circle cx="302.3" cy="250.3" r="5.95"/><circle cx="302.6" cy="258.4" r="5.95"/><circle cx="302.7" cy="260.3" r="5.95"/><circle cx="302.9" cy="252.5" r="5.95"/><circle cx="303.4" cy="260.9" r="5.95"/><circle cx="303.4" cy="264.3" r="5.95"/><circle cx="303.8" cy="257.8" r="5.95"/><circle cx="304" cy="261.1" r="5.95"/><circle cx="304.1" cy="273.7" r="5.95"/><circle cx="304.5" cy="257.5" r="5.95"/><circle cx="304.7" cy="267.1" r="5.95"/><circle cx="305.1" cy="249.3" r="5.95"/><circle cx="305.2" cy="251.9" r="5.95"/><circle cx="305.3" cy="259" r="5.95"/><circle cx="305.5" cy="266.6" r="5.95"/><circle cx="305.6" cy="252.2" r="5.95"/><circle cx="305.8" cy="273.6" r="5.95"/><circle cx="306.5" cy="263.7" r="5.95"/><circle cx="306.6" cy="260.6" r="5.95"/><circle cx="306.9" cy="251.4" r="5.95"/><circle cx="306.9" cy="261.1" r="5.95"/><circle cx="307" cy="254.7" r="5.95"/><circle cx="307.4" cy="257.1" r="5.95"/><circle cx="307.6" cy="261.6" r="5.95"/><circle cx="307.9" cy="260.7" r="5.95"/><circle cx="307.9" cy="264.2" r="5.95"/><circle cx="308.5" cy="262.7" r="5.95"/><circle cx="308.6" cy="261.4" r="5.95"/><circle cx="308.8" cy="262.3" r="5.95"/><circle cx="308.9" cy="266.5" r="5.95"/><circle cx="309.3" cy="258.6" r="5.95"/><circle cx="309.5" cy="263.9" r="5.95"/><circle cx="309.6" cy="268.8" r="5.95"/><circle cx="309.8" cy="265.9" r="5.95"/><circle cx="310.2" cy="260.4" r="5.95"/><circle cx="310.4" cy="263.1" r="5.95"/><circle cx="310.7" cy="262.2" r="5.95"/><circle cx="310.9" cy="264.9" r="5.95"/><circle cx="311" cy="266.7" r="5.95"/><circle cx="311.4" cy="261.3" r="5.95"/><circle cx="311.7" cy="269.8" r="5.95"/><circle cx="311.9" cy="266.5" r="5.95"/><circle cx="312.1" cy="268" r="5.95"/><circle cx="312.2" cy="259.1" r="5.95"/><circle cx="312.5" cy="270.7" r="5.95"/><circle cx="312.6" cy="264.5" r="5.95"/><circle cx="312.9" cy="262.1" r="5.95"/><circle cx="313.2" cy="273.3" r="5.95"/><circle cx="313.6" cy="262" r="5.95"/><circle cx="313.6" cy="259.7" r="5.95"/><circle cx="313.8" cy="273.3" r="5.95"/><circle cx="314.4" cy="256.8" r="5.95"/><circle cx="314.5" cy="266.2" r="5.95"/><circle cx="314.8" cy="265.6" r="5.95"/><circle cx="314.8" cy="256.7" r="5.95"/><circle cx="314.9" cy="262.5" r="5.95"/><circle cx="315.2" cy="268.3" r="5.95"/><circle cx="315.7" cy="263.6" r="5.95"/><circle cx="315.8" cy="260.9" r="5.95"/><circle cx="316" cy="262.4" r="5.95"/><circle cx="316.2" cy="265.5" r="5.95"/><circle cx="316.4" cy="268.2" r="5.95"/><circle cx="316.8" cy="269.2" r="5.95"/><circle cx="316.9" cy="266.6" r="5.95"/><circle cx="317.4" cy="264.5" r="5.95"/><circle cx="317.7" cy="266.3" r="5.95"/><circle cx="317.7" cy="267.4" r="5.95"/><circle cx="318.1" cy="265" r="5.95"/><circle cx="318.3" cy="265.9" r="5.95"/><circle cx="318.6" cy="267.7" r="5.95"/><circle cx="318.8" cy="261.1" r="5.95"/><circle cx="319" cy="272.2" r="5.95"/><circle cx="319.1" cy="261.2" r="5.95"/><circle cx="319.2" cy="267.2" r="5.95"/><circle cx="319.7" cy="265" r="5.95"/><circle cx="319.9" cy="269" r="5.95"/><circle cx="320" cy="255.4" r="5.95"/><circle cx="320.3" cy="266.7" r="5.95"/><circle cx="320.4" cy="265.8" r="5.95"/><circle cx="320.6" cy="256.1" r="5.95"/><circle cx="321.1" cy="263" r="5.95"/><circle cx="321.2" cy="268.8" r="5.95"/><circle cx="321.4" cy="258.1" r="5.95"/><circle cx="321.6" cy="262.8" r="5.95"/><circle cx="321.7" cy="266.9" r="5.95"/><circle cx="322.2" cy="258.6" r="5.95"/><circle cx="322.2" cy="261.9" r="5.95"/><circle cx="322.4" cy="261.1" r="5.95"/><circle cx="322.8" cy="269.3" r="5.95"/><circle cx="323.1" cy="265.7" r="5.95"/><circle cx="323.3" cy="258.2" r="5.95"/><circle cx="323.6" cy="258.5" r="5.95"/><circle cx="323.8" cy="265.4" r="5.95"/><circle cx="323.9" cy="259.4" r="5.95"/><circle cx="324.3" cy="257.1" r="5.95"/><circle cx="324.5" cy="267.1" r="5.95"/><circle cx="324.5" cy="259.5" r="5.95"/><circle cx="324.9" cy="260" r="5.95"/><circle cx="325.3" cy="269.1" r="5.95"/><circle cx="325.4" cy="257.7" r="5.95"/><circle cx="325.6" cy="264.5" r="5.95"/><circle cx="325.8" cy="257.9" r="5.95"/><circle cx="326.2" cy="265.2" r="5.95"/><circle cx="326.2" cy="257.8" r="5.95"/><circle cx="326.7" cy="272.7" r="5.95"/><circle cx="327" cy="259.7" r="5.95"/><circle cx="327.1" cy="268.2" r="5.95"/><circle cx="327.3" cy="267.1" r="5.95"/><circle cx="327.7" cy="261.3" r="5.95"/><circle cx="327.9" cy="271.4" r="5.95"/><circle cx="328" cy="262.1" r="5.95"/><circle cx="328.2" cy="263.4" r="5.95"/><circle cx="328.6" cy="265.8" r="5.95"/><circle cx="328.6" cy="261.1" r="5.95"/><circle cx="328.8" cy="260.3" r="5.95"/><circle cx="329.3" cy="259.5" r="5.95"/><circle cx="329.3" cy="264.1" r="5.95"/><circle cx="329.8" cy="261.1" r="5.95"/><circle cx="329.9" cy="259.8" r="5.95"/><circle cx="330.1" cy="266.4" r="5.95"/><circle cx="330.3" cy="263.1" r="5.95"/><circle cx="330.6" cy="264" r="5.95"/><circle cx="330.8" cy="263.4" r="5.95"/><circle cx="330.9" cy="262.7" r="5.95"/><circle cx="331.2" cy="263.3" r="5.95"/><circle cx="331.7" cy="263.2" r="5.95"/><circle cx="331.7" cy="260.8" r="5.95"/><circle cx="331.8" cy="265.6" r="5.95"/><circle cx="332.1" cy="263.2" r="5.95"/><circle cx="332.4" cy="262" r="5.95"/><circle cx="332.7" cy="260.8" r="5.95"/><circle cx="333" cy="265" r="5.95"/><circle cx="333.2" cy="260.4" r="5.95"/><circle cx="333.3" cy="260.4" r="5.95"/><circle cx="333.4" cy="263.2" r="5.95"/><circle cx="333.9" cy="259.6" r="5.95"/><circle cx="334.2" cy="253.9" r="5.95"/><circle cx="334.4" cy="264.4" r="5.95"/><circle cx="334.7" cy="257.5" r="5.95"/><circle cx="334.8" cy="256.9" r="5.95"/><circle cx="334.9" cy="260.6" r="5.95"/><circle cx="335.1" cy="256.7" r="5.95"/><circle cx="335.3" cy="254.3" r="5.95"/><circle cx="335.8" cy="258.1" r="5.95"/><circle cx="336.1" cy="256.6" r="5.95"/><circle cx="336.3" cy="254.4" r="5.95"/><circle cx="336.6" cy="259.6" r="5.95"/><circle cx="336.6" cy="255.8" r="5.95"/><circle cx="336.9" cy="253.4" r="5.95"/><circle cx="337" cy="260.5" r="5.95"/><circle cx="337.4" cy="254" r="5.95"/><circle cx="337.6" cy="254.4" r="5.95"/><circle cx="337.9" cy="252.7" r="5.95"/><circle cx="337.9" cy="259.1" r="5.95"/><circle cx="338" cy="257" r="5.95"/><circle cx="338.4" cy="259.5" r="5.95"/><circle cx="338.6" cy="252.4" r="5.95"/><circle cx="338.8" cy="254.8" r="5.95"/><circle cx="339.1" cy="258.7" r="5.95"/><circle cx="339.3" cy="248.9" r="5.95"/><circle cx="339.5" cy="254.4" r="5.95"/><circle cx="339.7" cy="259.2" r="5.95"/><circle cx="340" cy="250" r="5.95"/><circle cx="340.5" cy="256" r="5.95"/><circle cx="340.6" cy="259.5" r="5.95"/><circle cx="340.9" cy="255.2" r="5.95"/><circle cx="341" cy="247.8" r="5.95"/><circle cx="341.1" cy="258.8" r="5.95"/><circle cx="341.3" cy="248" r="5.95"/><circle cx="341.7" cy="251.5" r="5.95"/><circle cx="342.1" cy="258.2" r="5.95"/><circle cx="342.1" cy="246.2" r="5.95"/><circle cx="342.5" cy="253.3" r="5.95"/><circle cx="342.7" cy="256.1" r="5.95"/><circle cx="343" cy="247.2" r="5.95"/><circle cx="343.1" cy="250.7" r="5.95"/><circle cx="343.4" cy="256.5" r="5.95"/><circle cx="343.5" cy="246.8" r="5.95"/><circle cx="343.9" cy="249.4" r="5.95"/><circle cx="344.2" cy="244.8" r="5.95"/><circle cx="344.2" cy="246.2" r="5.95"/><circle cx="344.5" cy="249.4" r="5.95"/><circle cx="344.7" cy="248.9" r="5.95"/><circle cx="344.9" cy="244.4" r="5.95"/><circle cx="345.2" cy="252.6" r="5.95"/><circle cx="345.4" cy="248.7" r="5.95"/><circle cx="345.6" cy="244.6" r="5.95"/><circle cx="346.1" cy="247.1" r="5.95"/><circle cx="346.1" cy="249.5" r="5.95"/><circle cx="346.2" cy="247.8" r="5.95"/><circle cx="346.7" cy="245.1" r="5.95"/><circle cx="346.7" cy="244.2" r="5.95"/><circle cx="347.2" cy="242.1" r="5.95"/><circle cx="347.4" cy="245.2" r="5.95"/><circle cx="347.8" cy="243.4" r="5.95"/><circle cx="347.9" cy="243.1" r="5.95"/><circle cx="348.1" cy="241.7" r="5.95"/><circle cx="348.1" cy="242.3" r="5.95"/><circle cx="348.4" cy="242.9" r="5.95"/><circle cx="348.7" cy="242.5" r="5.95"/><circle cx="348.8" cy="238.1" r="5.95"/><circle cx="349.3" cy="245.9" r="5.95"/><circle cx="349.4" cy="241" r="5.95"/><circle cx="349.8" cy="241.8" r="5.95"/><circle cx="349.9" cy="237.1" r="5.95"/><circle cx="350.3" cy="237.5" r="5.95"/><circle cx="350.5" cy="241.2" r="5.95"/><circle cx="350.5" cy="245" r="5.95"/><circle cx="351" cy="238.6" r="5.95"/><circle cx="351.1" cy="240.4" r="5.95"/><circle cx="351.3" cy="236.2" r="5.95"/><circle cx="351.5" cy="240.3" r="5.95"/><circle cx="351.8" cy="241.5" r="5.95"/><circle cx="351.9" cy="241.6" r="5.95"/><circle cx="352.1" cy="243.9" r="5.95"/><circle cx="352.4" cy="245.6" r="5.95"/><circle cx="352.8" cy="242.4" r="5.95"/><circle cx="352.8" cy="238.5" r="5.95"/><circle cx="353" cy="240" r="5.95"/><circle cx="353.5" cy="241.2" r="5.95"/><circle cx="353.5" cy="235" r="5.95"/><circle cx="353.9" cy="237.3" r="5.95"/><circle cx="353.9" cy="242" r="5.95"/><circle cx="354.3" cy="237.6" r="5.95"/><circle cx="354.5" cy="243.9" r="5.95"/><circle cx="354.9" cy="237.7" r="5.95"/><circle cx="355" cy="231.9" r="5.95"/><circle cx="355.2" cy="243.1" r="5.95"/><circle cx="355.5" cy="234.8" r="5.95"/><circle cx="355.6" cy="232.6" r="5.95"/><circle cx="356.2" cy="239.9" r="5.95"/><circle cx="356.2" cy="232.6" r="5.95"/><circle cx="356.4" cy="233.6" r="5.95"/><circle cx="356.5" cy="224" r="5.95"/><circle cx="357.1" cy="233.3" r="5.95"/><circle cx="357.2" cy="232.4" r="5.95"/><circle cx="357.3" cy="241.1" r="5.95"/><circle cx="357.6" cy="229.5" r="5.95"/><circle cx="357.7" cy="238.2" r="5.95"/><circle cx="358.2" cy="226.6" r="5.95"/><circle cx="358.2" cy="237.9" r="5.95"/><circle cx="358.6" cy="236.9" r="5.95"/><circle cx="358.8" cy="226.6" r="5.95"/><circle cx="358.9" cy="232.2" r="5.95"/><circle cx="359.3" cy="229.5" r="5.95"/><circle cx="359.3" cy="229.6" r="5.95"/><circle cx="359.9" cy="229.5" r="5.95"/><circle cx="360" cy="227.5" r="5.95"/><circle cx="360.3" cy="226.4" r="5.95"/><circle cx="360.4" cy="230.9" r="5.95"/><circle cx="360.8" cy="228.6" r="5.95"/><circle cx="360.9" cy="230.7" r="5.95"/><circle cx="361.2" cy="229.6" r="5.95"/><circle cx="361.5" cy="223.3" r="5.95"/><circle cx="361.7" cy="228.5" r="5.95"/><circle cx="361.9" cy="231.8" r="5.95"/><circle cx="361.9" cy="224" r="5.95"/><circle cx="362.5" cy="230" r="5.95"/><circle cx="362.5" cy="222.5" r="5.95"/><circle cx="362.7" cy="228.9" r="5.95"/><circle cx="363.1" cy="231.1" r="5.95"/><circle cx="363.3" cy="224.2" r="5.95"/><circle cx="363.4" cy="225.7" r="5.95"/><circle cx="363.7" cy="233.1" r="5.95"/><circle cx="364" cy="224.6" r="5.95"/><circle cx="364.1" cy="231.1" r="5.95"/><circle cx="364.5" cy="232.1" r="5.95"/><circle cx="364.6" cy="226.8" r="5.95"/><circle cx="364.9" cy="221.7" r="5.95"/><circle cx="365.1" cy="230.9" r="5.95"/><circle cx="365.4" cy="226.6" r="5.95"/><circle cx="365.5" cy="226.6" r="5.95"/><circle cx="365.8" cy="231.2" r="5.95"/><circle cx="365.9" cy="226.1" r="5.95"/><circle cx="366.2" cy="222.1" r="5.95"/><circle cx="366.5" cy="224.4" r="5.95"/><circle cx="366.6" cy="230.4" r="5.95"/><circle cx="367" cy="224" r="5.95"/><circle cx="367.2" cy="224.9" r="5.95"/><circle cx="367.5" cy="223.2" r="5.95"/><circle cx="367.6" cy="218.6" r="5.95"/><circle cx="367.9" cy="222.6" r="5.95"/><circle cx="367.9" cy="223.4" r="5.95"/><circle cx="368.4" cy="224.7" r="5.95"/><circle cx="368.5" cy="215.9" r="5.95"/><circle cx="369" cy="223" r="5.95"/><circle cx="369.1" cy="215.3" r="5.95"/><circle cx="369.4" cy="223.8" r="5.95"/><circle cx="369.4" cy="219.5" r="5.95"/><circle cx="369.7" cy="215.4" r="5.95"/><circle cx="369.9" cy="221.7" r="5.95"/><circle cx="370.2" cy="218.4" r="5.95"/><circle cx="370.3" cy="219.2" r="5.95"/><circle cx="370.7" cy="221.5" r="5.95"/><circle cx="370.8" cy="220.9" r="5.95"/><circle cx="371" cy="213" r="5.95"/><circle cx="371.3" cy="224.9" r="5.95"/><circle cx="371.5" cy="220.8" r="5.95"/><circle cx="371.9" cy="220" r="5.95"/><circle cx="372.1" cy="224.1" r="5.95"/><circle cx="372.3" cy="217.5" r="5.95"/><circle cx="372.5" cy="213.7" r="5.95"/><circle cx="372.8" cy="223.3" r="5.95"/><circle cx="373.1" cy="216.3" r="5.95"/><circle cx="373.2" cy="219" r="5.95"/><circle cx="373.5" cy="212.6" r="5.95"/><circle cx="373.6" cy="222.5" r="5.95"/><circle cx="374.1" cy="217" r="5.95"/><circle cx="374.2" cy="221.4" r="5.95"/><circle cx="374.3" cy="209.1" r="5.95"/><circle cx="374.7" cy="213.4" r="5.95"/><circle cx="374.9" cy="207.3" r="5.95"/><circle cx="375" cy="207.8" r="5.95"/><circle cx="375.4" cy="215.2" r="5.95"/><circle cx="375.7" cy="219.7" r="5.95"/><circle cx="375.9" cy="211.2" r="5.95"/><circle cx="376" cy="211.9" r="5.95"/><circle cx="376.3" cy="218.7" r="5.95"/><circle cx="376.5" cy="208.8" r="5.95"/><circle cx="376.5" cy="210.1" r="5.95"/><circle cx="377" cy="212.8" r="5.95"/><circle cx="377.2" cy="202.7" r="5.95"/><circle cx="377.3" cy="209.3" r="5.95"/><circle cx="377.8" cy="215.1" r="5.95"/><circle cx="378.1" cy="202.9" r="5.95"/><circle cx="378.3" cy="216" r="5.95"/><circle cx="378.5" cy="215.1" r="5.95"/><circle cx="378.6" cy="201.1" r="5.95"/><circle cx="378.7" cy="208.4" r="5.95"/><circle cx="379.2" cy="212.4" r="5.95"/><circle cx="379.3" cy="203.4" r="5.95"/><circle cx="379.3" cy="213.2" r="5.95"/><circle cx="380" cy="202.6" r="5.95"/><circle cx="380" cy="206" r="5.95"/><circle cx="380" cy="207.3" r="5.95"/><circle cx="380.5" cy="202.9" r="5.95"/><circle cx="380.6" cy="203.2" r="5.95"/><circle cx="381.1" cy="202.1" r="5.95"/><circle cx="381.2" cy="199.4" r="5.95"/><circle cx="381.5" cy="202.2" r="5.95"/><circle cx="381.5" cy="199.7" r="5.95"/><circle cx="381.8" cy="199.4" r="5.95"/><circle cx="382" cy="198.2" r="5.95"/><circle cx="382.1" cy="204.4" r="5.95"/><circle cx="382.5" cy="198.3" r="5.95"/><circle cx="382.8" cy="201.1" r="5.95"/><circle cx="382.9" cy="200.7" r="5.95"/><circle cx="383.3" cy="196.2" r="5.95"/><circle cx="383.5" cy="196.1" r="5.95"/><circle cx="383.5" cy="197.1" r="5.95"/><circle cx="384" cy="200.1" r="5.95"/><circle cx="384.3" cy="196.2" r="5.95"/><circle cx="384.5" cy="198.5" r="5.95"/><circle cx="384.9" cy="199.7" r="5.95"/><circle cx="385" cy="202.4" r="5.95"/><circle cx="385.2" cy="197.9" r="5.95"/><circle cx="385.2" cy="202.8" r="5.95"/><circle cx="385.6" cy="196.3" r="5.95"/><circle cx="385.8" cy="200.1" r="5.95"/><circle cx="386" cy="197.4" r="5.95"/><circle cx="386.5" cy="195" r="5.95"/><circle cx="386.6" cy="191.8" r="5.95"/><circle cx="386.9" cy="195.8" r="5.95"/><circle cx="387" cy="197.7" r="5.95"/><circle cx="387.2" cy="193.1" r="5.95"/><circle cx="387.5" cy="183.3" r="5.95"/><circle cx="387.9" cy="193.2" r="5.95"/><circle cx="388" cy="199.6" r="5.95"/><circle cx="388.3" cy="201.7" r="5.95"/><circle cx="388.5" cy="194.2" r="5.95"/><circle cx="388.7" cy="193.2" r="5.95"/><circle cx="388.8" cy="196.2" r="5.95"/><circle cx="389.1" cy="198.2" r="5.95"/><circle cx="389.4" cy="191.7" r="5.95"/><circle cx="389.7" cy="193.5" r="5.95"/><circle cx="389.7" cy="197.9" r="5.95"/><circle cx="389.9" cy="194.3" r="5.95"/><circle cx="390.3" cy="192.7" r="5.95"/><circle cx="390.6" cy="198.1" r="5.95"/><circle cx="390.9" cy="192.9" r="5.95"/><circle cx="391" cy="193.9" r="5.95"/><circle cx="391.2" cy="192.9" r="5.95"/><circle cx="391.5" cy="197.1" r="5.95"/><circle cx="391.6" cy="196.3" r="5.95"/><circle cx="392" cy="194.2" r="5.95"/><circle cx="392.1" cy="197.3" r="5.95"/><circle cx="392.4" cy="197.7" r="5.95"/><circle cx="392.6" cy="190.3" r="5.95"/><circle cx="392.7" cy="195.7" r="5.95"/><circle cx="393.2" cy="200" r="5.95"/><circle cx="393.2" cy="194.8" r="5.95"/><circle cx="393.5" cy="191.1" r="5.95"/><circle cx="393.8" cy="194.5" r="5.95"/><circle cx="393.9" cy="201.8" r="5.95"/><circle cx="394.3" cy="187.3" r="5.95"/><circle cx="394.5" cy="201.1" r="5.95"/><circle cx="394.8" cy="197.1" r="5.95"/><circle cx="394.9" cy="191.6" r="5.95"/><circle cx="395.2" cy="203.1" r="5.95"/><circle cx="395.3" cy="195.1" r="5.95"/><circle cx="395.6" cy="189.3" r="5.95"/><circle cx="395.7" cy="203.2" r="5.95"/><circle cx="396.1" cy="195.7" r="5.95"/><circle cx="396.5" cy="196.3" r="5.95"/><circle cx="396.7" cy="202.1" r="5.95"/><circle cx="396.9" cy="195.9" r="5.95"/><circle cx="397.1" cy="201.8" r="5.95"/><circle cx="397.3" cy="200.8" r="5.95"/><circle cx="397.6" cy="197.2" r="5.95"/><circle cx="397.7" cy="199.4" r="5.95"/><circle cx="398.1" cy="203.7" r="5.95"/><circle cx="398.4" cy="196.6" r="5.95"/><circle cx="398.6" cy="200.6" r="5.95"/><circle cx="398.7" cy="190" r="5.95"/><circle cx="399" cy="194.8" r="5.95"/><circle cx="399.2" cy="201.9" r="5.95"/><circle cx="399.4" cy="194.5" r="5.95"/><circle cx="399.5" cy="193.5" r="5.95"/><circle cx="399.6" cy="200.8" r="5.95"/><circle cx="400.2" cy="195.2" r="5.95"/><circle cx="400.5" cy="191.8" r="5.95"/><circle cx="400.5" cy="194.1" r="5.95"/><circle cx="400.7" cy="194.2" r="5.95"/><circle cx="400.8" cy="189.8" r="5.95"/><circle cx="401.1" cy="190.9" r="5.95"/><circle cx="401.7" cy="187.6" r="5.95"/><circle cx="401.7" cy="196" r="5.95"/><circle cx="401.8" cy="190.5" r="5.95"/><circle cx="402" cy="194.1" r="5.95"/><circle cx="402.5" cy="191.8" r="5.95"/><circle cx="402.6" cy="187.1" r="5.95"/><circle cx="403.1" cy="194.4" r="5.95"/><circle cx="403.2" cy="191.3" r="5.95"/><circle cx="403.4" cy="189.4" r="5.95"/><circle cx="403.6" cy="194.6" r="5.95"/><circle cx="403.8" cy="189.2" r="5.95"/><circle cx="404" cy="191" r="5.95"/><circle cx="404.3" cy="193" r="5.95"/><circle cx="404.6" cy="194.7" r="5.95"/><circle cx="404.6" cy="186.8" r="5.95"/><circle cx="405.1" cy="189.7" r="5.95"/><circle cx="405.2" cy="193.3" r="5.95"/><circle cx="405.2" cy="191.3" r="5.95"/><circle cx="405.7" cy="191.1" r="5.95"/><circle cx="405.7" cy="189.9" r="5.95"/><circle cx="406" cy="190.5" r="5.95"/><circle cx="406.4" cy="190.1" r="5.95"/><circle cx="406.5" cy="189" r="5.95"/><circle cx="406.8" cy="187" r="5.95"/><circle cx="406.9" cy="192.1" r="5.95"/><circle cx="407.5" cy="190.9" r="5.95"/><circle cx="407.5" cy="187.4" r="5.95"/><circle cx="407.8" cy="193.7" r="5.95"/><circle cx="407.9" cy="192.4" r="5.95"/><circle cx="408.2" cy="190.2" r="5.95"/><circle cx="408.6" cy="191.5" r="5.95"/><circle cx="408.6" cy="189.5" r="5.95"/><circle cx="408.9" cy="192.5" r="5.95"/><circle cx="409.1" cy="188.9" r="5.95"/><circle cx="409.4" cy="191.3" r="5.95"/><circle cx="409.6" cy="190.2" r="5.95"/><circle cx="409.7" cy="190.2" r="5.95"/><circle cx="410" cy="190.6" r="5.95"/><circle cx="410.2" cy="186.1" r="5.95"/><circle cx="410.6" cy="193" r="5.95"/><circle cx="410.9" cy="191.1" r="5.95"/><circle cx="411.2" cy="191.2" r="5.95"/><circle cx="411.3" cy="187.8" r="5.95"/><circle cx="411.5" cy="187" r="5.95"/><circle cx="411.6" cy="182.5" r="5.95"/><circle cx="412" cy="189.9" r="5.95"/><circle cx="412.1" cy="189.1" r="5.95"/><circle cx="412.3" cy="182.3" r="5.95"/><circle cx="412.7" cy="188.6" r="5.95"/><circle cx="413.1" cy="190.1" r="5.95"/><circle cx="413.2" cy="181.1" r="5.95"/><circle cx="413.2" cy="189.9" r="5.95"/><circle cx="413.4" cy="182.3" r="5.95"/><circle cx="413.9" cy="182.2" r="5.95"/><circle cx="414.2" cy="184.7" r="5.95"/><circle cx="414.2" cy="189.9" r="5.95"/><circle cx="414.5" cy="184" r="5.95"/><circle cx="414.7" cy="186.6" r="5.95"/><circle cx="415" cy="186.2" r="5.95"/><circle cx="415.3" cy="182" r="5.95"/><circle cx="415.6" cy="188.7" r="5.95"/><circle cx="415.8" cy="188.3" r="5.95"/><circle cx="415.9" cy="181.7" r="5.95"/><circle cx="416.2" cy="186.1" r="5.95"/><circle cx="416.3" cy="181.8" r="5.95"/><circle cx="416.4" cy="187.7" r="5.95"/><circle cx="417.1" cy="184.4" r="5.95"/><circle cx="417.1" cy="180.6" r="5.95"/><circle cx="417.5" cy="184.9" r="5.95"/><circle cx="417.5" cy="187" r="5.95"/><circle cx="417.8" cy="182.7" r="5.95"/><circle cx="417.9" cy="180.5" r="5.95"/><circle cx="418.4" cy="183.5" r="5.95"/><circle cx="418.5" cy="178.1" r="5.95"/><circle cx="418.8" cy="177.2" r="5.95"/><circle cx="419.1" cy="183.1" r="5.95"/><circle cx="419.2" cy="180.9" r="5.95"/><circle cx="419.3" cy="179.2" r="5.95"/><circle cx="419.5" cy="181.1" r="5.95"/><circle cx="419.7" cy="179.9" r="5.95"/><circle cx="420" cy="181.7" r="5.95"/><circle cx="420.4" cy="173.3" r="5.95"/><circle cx="420.6" cy="178.6" r="5.95"/><circle cx="420.8" cy="180.8" r="5.95"/><circle cx="421" cy="184.2" r="5.95"/><circle cx="421.1" cy="177.7" r="5.95"/><circle cx="421.7" cy="182.7" r="5.95"/><circle cx="421.9" cy="176.3" r="5.95"/><circle cx="422.1" cy="173.6" r="5.95"/><circle cx="422.3" cy="180.9" r="5.95"/><circle cx="422.5" cy="174.9" r="5.95"/><circle cx="422.7" cy="179.6" r="5.95"/><circle cx="422.8" cy="174.8" r="5.95"/><circle cx="423.2" cy="172.1" r="5.95"/><circle cx="423.3" cy="179.4" r="5.95"/><circle cx="423.4" cy="170.5" r="5.95"/><circle cx="423.9" cy="181.7" r="5.95"/><circle cx="424.1" cy="172.5" r="5.95"/><circle cx="424.4" cy="171.5" r="5.95"/><circle cx="424.6" cy="177.4" r="5.95"/><circle cx="424.8" cy="171" r="5.95"/><circle cx="425.1" cy="173.3" r="5.95"/><circle cx="425.2" cy="172.3" r="5.95"/><circle cx="425.3" cy="177" r="5.95"/><circle cx="425.9" cy="175.3" r="5.95"/><circle cx="426" cy="168.3" r="5.95"/><circle cx="426.3" cy="175.1" r="5.95"/><circle cx="426.3" cy="175.5" r="5.95"/><circle cx="426.5" cy="169" r="5.95"/><circle cx="426.7" cy="177.7" r="5.95"/><circle cx="427.2" cy="173.4" r="5.95"/><circle cx="427.5" cy="167.5" r="5.95"/><circle cx="427.5" cy="175.6" r="5.95"/><circle cx="427.8" cy="170.4" r="5.95"/><circle cx="427.9" cy="170.2" r="5.95"/><circle cx="428.1" cy="173.9" r="5.95"/><circle cx="428.7" cy="172.7" r="5.95"/><circle cx="428.8" cy="167.5" r="5.95"/><circle cx="429.1" cy="174.4" r="5.95"/><circle cx="429.3" cy="174.1" r="5.95"/><circle cx="429.4" cy="165.6" r="5.95"/><circle cx="429.8" cy="172.8" r="5.95"/><circle cx="430" cy="170.6" r="5.95"/><circle cx="430.2" cy="168.3" r="5.95"/><circle cx="430.5" cy="177.1" r="5.95"/><circle cx="430.7" cy="168.3" r="5.95"/><circle cx="430.7" cy="167.3" r="5.95"/><circle cx="431" cy="174" r="5.95"/><circle cx="431.1" cy="167.1" r="5.95"/><circle cx="431.4" cy="170.9" r="5.95"/><circle cx="431.7" cy="176.1" r="5.95"/><circle cx="432.2" cy="164.7" r="5.95"/><circle cx="432.3" cy="173" r="5.95"/><circle cx="432.7" cy="170.4" r="5.95"/><circle cx="432.7" cy="167.2" r="5.95"/><circle cx="433.1" cy="173.1" r="5.95"/><circle cx="433.3" cy="166.9" r="5.95"/><circle cx="433.6" cy="163.5" r="5.95"/><circle cx="433.9" cy="168.9" r="5.95"/><circle cx="434" cy="166.4" r="5.95"/><circle cx="434.1" cy="168.2" r="5.95"/><circle cx="434.5" cy="166.6" r="5.95"/><circle cx="434.6" cy="163.8" r="5.95"/><circle cx="434.8" cy="163.7" r="5.95"/><circle cx="435.3" cy="173.5" r="5.95"/><circle cx="435.5" cy="169.2" r="5.95"/><circle cx="435.7" cy="166.6" r="5.95"/><circle cx="435.7" cy="171.3" r="5.95"/><circle cx="436.1" cy="169.1" r="5.95"/><circle cx="436.4" cy="174.3" r="5.95"/><circle cx="436.6" cy="171.1" r="5.95"/><circle cx="436.8" cy="167.7" r="5.95"/><circle cx="436.9" cy="165.9" r="5.95"/><circle cx="437.3" cy="170.3" r="5.95"/><circle cx="437.4" cy="171.2" r="5.95"/><circle cx="437.8" cy="165.6" r="5.95"/><circle cx="437.8" cy="173.2" r="5.95"/><circle cx="438.1" cy="172.9" r="5.95"/><circle cx="438.2" cy="167.2" r="5.95"/><circle cx="438.5" cy="157.3" r="5.95"/><circle cx="438.8" cy="163.6" r="5.95"/><circle cx="438.8" cy="171.6" r="5.95"/><circle cx="439.2" cy="165.6" r="5.95"/><circle cx="439.4" cy="156.6" r="5.95"/><circle cx="439.6" cy="168" r="5.95"/><circle cx="440" cy="164" r="5.95"/><circle cx="440.2" cy="156.3" r="5.95"/><circle cx="440.5" cy="167.1" r="5.95"/><circle cx="440.7" cy="156" r="5.95"/><circle cx="440.8" cy="158.8" r="5.95"/><circle cx="441.2" cy="163.7" r="5.95"/><circle cx="441.5" cy="164.9" r="5.95"/><circle cx="441.7" cy="155.7" r="5.95"/><circle cx="441.8" cy="158.2" r="5.95"/><circle cx="442.1" cy="164.3" r="5.95"/><circle cx="442.2" cy="155.9" r="5.95"/><circle cx="442.6" cy="160.6" r="5.95"/><circle cx="442.7" cy="155.3" r="5.95"/><circle cx="442.9" cy="159.5" r="5.95"/><circle cx="443.2" cy="154.9" r="5.95"/><circle cx="443.6" cy="162.5" r="5.95"/><circle cx="443.8" cy="155.4" r="5.95"/><circle cx="443.8" cy="160.5" r="5.95"/><circle cx="444.2" cy="164" r="5.95"/><circle cx="444.4" cy="156.2" r="5.95"/><circle cx="444.8" cy="159.8" r="5.95"/><circle cx="444.8" cy="161" r="5.95"/><circle cx="445" cy="155" r="5.95"/><circle cx="445.4" cy="161" r="5.95"/><circle cx="445.6" cy="159" r="5.95"/><circle cx="446" cy="153.8" r="5.95"/><circle cx="446.2" cy="155.6" r="5.95"/><circle cx="446.2" cy="162.9" r="5.95"/><circle cx="446.7" cy="155.8" r="5.95"/><circle cx="446.8" cy="158.4" r="5.95"/><circle cx="446.9" cy="163.2" r="5.95"/><circle cx="447.2" cy="158.4" r="5.95"/><circle cx="447.4" cy="154.9" r="5.95"/><circle cx="447.7" cy="163" r="5.95"/><circle cx="447.9" cy="157.4" r="5.95"/><circle cx="448.3" cy="159.4" r="5.95"/><circle cx="448.4" cy="157.1" r="5.95"/><circle cx="448.5" cy="163.8" r="5.95"/><circle cx="448.7" cy="155.6" r="5.95"/><circle cx="448.9" cy="161.9" r="5.95"/><circle cx="449.2" cy="157.1" r="5.95"/><circle cx="449.3" cy="158.3" r="5.95"/><circle cx="449.8" cy="160.1" r="5.95"/><circle cx="450.1" cy="157.5" r="5.95"/><circle cx="450.2" cy="157.9" r="5.95"/><circle cx="450.4" cy="162.2" r="5.95"/><circle cx="450.7" cy="155.3" r="5.95"/><circle cx="451.1" cy="155.5" r="5.95"/><circle cx="451.3" cy="160.3" r="5.95"/><circle cx="451.4" cy="157.9" r="5.95"/><circle cx="451.6" cy="153.3" r="5.95"/><circle cx="451.9" cy="154.9" r="5.95"/><circle cx="452" cy="158.9" r="5.95"/><circle cx="452.4" cy="155.9" r="5.95"/><circle cx="452.5" cy="159.1" r="5.95"/><circle cx="452.6" cy="155.3" r="5.95"/><circle cx="453" cy="150.5" r="5.95"/><circle cx="453.3" cy="155.4" r="5.95"/><circle cx="453.4" cy="158" r="5.95"/><circle cx="453.6" cy="152.8" r="5.95"/><circle cx="454" cy="155" r="5.95"/><circle cx="454" cy="154.6" r="5.95"/><circle cx="454.3" cy="151.3" r="5.95"/><circle cx="454.6" cy="157.8" r="5.95"/><circle cx="455" cy="155" r="5.95"/><circle cx="455.2" cy="151.4" r="5.95"/><circle cx="455.3" cy="156.4" r="5.95"/><circle cx="455.8" cy="152.5" r="5.95"/><circle cx="455.8" cy="154.6" r="5.95"/><circle cx="456.1" cy="157.2" r="5.95"/><circle cx="456.4" cy="152.7" r="5.95"/><circle cx="456.7" cy="153.6" r="5.95"/><circle cx="456.9" cy="156.6" r="5.95"/><circle cx="457" cy="152.9" r="5.95"/><circle cx="457" cy="154.4" r="5.95"/><circle cx="457.5" cy="148.3" r="5.95"/><circle cx="457.7" cy="154.6" r="5.95"/><circle cx="457.9" cy="150.3" r="5.95"/><circle cx="458" cy="155.7" r="5.95"/><circle cx="458.4" cy="153.2" r="5.95"/><circle cx="458.7" cy="149.6" r="5.95"/><circle cx="459" cy="152.3" r="5.95"/><circle cx="459" cy="154.8" r="5.95"/><circle cx="459.2" cy="148.4" r="5.95"/><circle cx="459.6" cy="153" r="5.95"/><circle cx="459.8" cy="150.9" r="5.95"/><circle cx="459.9" cy="149.3" r="5.95"/><circle cx="460.3" cy="152.9" r="5.95"/><circle cx="460.3" cy="148.7" r="5.95"/><circle cx="460.7" cy="148.9" r="5.95"/><circle cx="460.9" cy="149.6" r="5.95"/><circle cx="461.3" cy="151.4" r="5.95"/><circle cx="461.3" cy="147.6" r="5.95"/><circle cx="461.7" cy="151.1" r="5.95"/><circle cx="461.9" cy="147" r="5.95"/><circle cx="462.2" cy="149.7" r="5.95"/><circle cx="462.5" cy="150.3" r="5.95"/><circle cx="462.6" cy="146.8" r="5.95"/><circle cx="463" cy="152.2" r="5.95"/><circle cx="463" cy="150.5" r="5.95"/><circle cx="463.4" cy="155.2" r="5.95"/><circle cx="463.4" cy="147.8" r="5.95"/><circle cx="463.7" cy="149.5" r="5.95"/><circle cx="463.9" cy="148.3" r="5.95"/><circle cx="464.1" cy="153.9" r="5.95"/><circle cx="464.7" cy="151.5" r="5.95"/><circle cx="464.8" cy="146.3" r="5.95"/><circle cx="465.1" cy="151.8" r="5.95"/><circle cx="465.2" cy="152.4" r="5.95"/><circle cx="465.4" cy="153.7" r="5.95"/><circle cx="465.5" cy="146.9" r="5.95"/><circle cx="465.7" cy="154.3" r="5.95"/><circle cx="466.2" cy="146.5" r="5.95"/><circle cx="466.4" cy="150" r="5.95"/><circle cx="466.8" cy="155.7" r="5.95"/><circle cx="466.8" cy="145.5" r="5.95"/><circle cx="467" cy="149.9" r="5.95"/><circle cx="467.1" cy="155.7" r="5.95"/><circle cx="467.6" cy="148.5" r="5.95"/><circle cx="467.8" cy="153" r="5.95"/><circle cx="467.9" cy="155" r="5.95"/><circle cx="468.4" cy="152.8" r="5.95"/><circle cx="468.4" cy="146.7" r="5.95"/><circle cx="468.7" cy="154.7" r="5.95"/><circle cx="469.1" cy="149.1" r="5.95"/><circle cx="469.3" cy="150.9" r="5.95"/><circle cx="469.5" cy="152.2" r="5.95"/><circle cx="469.6" cy="145.7" r="5.95"/><circle cx="469.9" cy="149.5" r="5.95"/><circle cx="470.3" cy="151" r="5.95"/><circle cx="470.5" cy="147.1" r="5.95"/><circle cx="470.5" cy="148.2" r="5.95"/><circle cx="470.7" cy="152.8" r="5.95"/><circle cx="470.9" cy="146.1" r="5.95"/><circle cx="471" cy="152.6" r="5.95"/><circle cx="471.5" cy="150.6" r="5.95"/><circle cx="471.9" cy="148.8" r="5.95"/><circle cx="471.9" cy="155.7" r="5.95"/><circle cx="472.4" cy="146.7" r="5.95"/><circle cx="472.5" cy="155.7" r="5.95"/><circle cx="472.6" cy="149.5" r="5.95"/><circle cx="472.9" cy="147.3" r="5.95"/><circle cx="473.2" cy="147.4" r="5.95"/><circle cx="473.4" cy="153.1" r="5.95"/><circle cx="473.6" cy="149" r="5.95"/><circle cx="473.7" cy="149" r="5.95"/><circle cx="473.9" cy="152" r="5.95"/><circle cx="474.3" cy="153" r="5.95"/><circle cx="474.6" cy="148" r="5.95"/><circle cx="474.7" cy="151.5" r="5.95"/><circle cx="475.1" cy="142.9" r="5.95"/><circle cx="475.2" cy="153.4" r="5.95"/><circle cx="475.3" cy="145.1" r="5.95"/><circle cx="475.8" cy="154.9" r="5.95"/><circle cx="475.9" cy="155.7" r="5.95"/><circle cx="476" cy="148.5" r="5.95"/><circle cx="476.3" cy="149.3" r="5.95"/><circle cx="476.6" cy="150.1" r="5.95"/><circle cx="476.8" cy="151.6" r="5.95"/><circle cx="477.1" cy="154.7" r="5.95"/><circle cx="477.2" cy="149.1" r="5.95"/><circle cx="477.4" cy="145.1" r="5.95"/><circle cx="477.7" cy="149.8" r="5.95"/><circle cx="478.1" cy="150.9" r="5.95"/><circle cx="478.2" cy="142.7" r="5.95"/><circle cx="478.6" cy="149.1" r="5.95"/><circle cx="478.7" cy="148.4" r="5.95"/><circle cx="479" cy="145.7" r="5.95"/><circle cx="479.3" cy="149" r="5.95"/><circle cx="479.5" cy="144.7" r="5.95"/><circle cx="479.7" cy="142.4" r="5.95"/><circle cx="480" cy="144.4" r="5.95"/><circle cx="480" cy="147.5" r="5.95"/><circle cx="480.2" cy="147.4" r="5.95"/><circle cx="480.6" cy="141.5" r="5.95"/><circle cx="480.7" cy="149.9" r="5.95"/><circle cx="481.2" cy="150" r="5.95"/><circle cx="481.3" cy="149.9" r="5.95"/><circle cx="481.5" cy="142.7" r="5.95"/><circle cx="481.6" cy="144.7" r="5.95"/><circle cx="482.2" cy="150.4" r="5.95"/><circle cx="482.2" cy="140.1" r="5.95"/><circle cx="482.4" cy="144.1" r="5.95"/><circle cx="482.6" cy="148.5" r="5.95"/><circle cx="483" cy="144.8" r="5.95"/><circle cx="483.1" cy="147.1" r="5.95"/><circle cx="483.4" cy="144.8" r="5.95"/><circle cx="483.5" cy="146.2" r="5.95"/><circle cx="483.8" cy="148.6" r="5.95"/><circle cx="483.9" cy="145.4" r="5.95"/><circle cx="484.2" cy="148.7" r="5.95"/><circle cx="484.5" cy="146.4" r="5.95"/><circle cx="484.8" cy="145.5" r="5.95"/><circle cx="484.9" cy="149.5" r="5.95"/><circle cx="485.3" cy="144.9" r="5.95"/><circle cx="485.6" cy="148" r="5.95"/><circle cx="485.7" cy="147.8" r="5.95"/><circle cx="485.8" cy="143.5" r="5.95"/><circle cx="486.1" cy="149.3" r="5.95"/><circle cx="486.3" cy="147.2" r="5.95"/><circle cx="486.5" cy="144.9" r="5.95"/><circle cx="487" cy="148" r="5.95"/><circle cx="487.1" cy="146.1" r="5.95"/><circle cx="487.2" cy="145.6" r="5.95"/><circle cx="487.6" cy="146.9" r="5.95"/><circle cx="487.9" cy="141" r="5.95"/><circle cx="488" cy="143.6" r="5.95"/><circle cx="488.2" cy="144.1" r="5.95"/><circle cx="488.6" cy="138.8" r="5.95"/><circle cx="488.6" cy="141.7" r="5.95"/><circle cx="488.9" cy="144" r="5.95"/><circle cx="489.1" cy="138.8" r="5.95"/><circle cx="489.4" cy="141.6" r="5.95"/><circle cx="489.7" cy="144.4" r="5.95"/><circle cx="489.9" cy="141.3" r="5.95"/><circle cx="489.9" cy="141.2" r="5.95"/><circle cx="490.4" cy="143.3" r="5.95"/><circle cx="490.4" cy="138.4" r="5.95"/><circle cx="490.8" cy="140.2" r="5.95"/><circle cx="490.9" cy="141.1" r="5.95"/><circle cx="491.3" cy="139.3" r="5.95"/><circle cx="491.5" cy="137.4" r="5.95"/><circle cx="491.7" cy="144.2" r="5.95"/><circle cx="492.1" cy="138.4" r="5.95"/><circle cx="492.2" cy="139.3" r="5.95"/><circle cx="492.5" cy="140.3" r="5.95"/><circle cx="492.7" cy="141.8" r="5.95"/><circle cx="492.8" cy="141.9" r="5.95"/><circle cx="493.2" cy="145.3" r="5.95"/><circle cx="493.5" cy="141.5" r="5.95"/><circle cx="493.7" cy="141.3" r="5.95"/><circle cx="494" cy="146.4" r="5.95"/><circle cx="494.3" cy="138.8" r="5.95"/><circle cx="494.3" cy="143.6" r="5.95"/><circle cx="494.6" cy="146" r="5.95"/><circle cx="494.7" cy="136.6" r="5.95"/><circle cx="495.1" cy="144.4" r="5.95"/><circle cx="495.2" cy="142.5" r="5.95"/><circle cx="495.4" cy="140" r="5.95"/><circle cx="495.6" cy="142.7" r="5.95"/><circle cx="496" cy="144.5" r="5.95"/><circle cx="496.3" cy="141.4" r="5.95"/><circle cx="496.4" cy="142.9" r="5.95"/><circle cx="496.6" cy="144.7" r="5.95"/><circle cx="496.8" cy="140.3" r="5.95"/><circle cx="497.2" cy="135.9" r="5.95"/><circle cx="497.2" cy="134.1" r="5.95"/><circle cx="497.5" cy="141" r="5.95"/><circle cx="498" cy="138.8" r="5.95"/><circle cx="498.1" cy="136.7" r="5.95"/><circle cx="498.3" cy="139.9" r="5.95"/><circle cx="498.6" cy="141" r="5.95"/><circle cx="498.9" cy="135.9" r="5.95"/><circle cx="499" cy="139.8" r="5.95"/><circle cx="499.3" cy="135.7" r="5.95"/><circle cx="499.4" cy="136.1" r="5.95"/><circle cx="499.6" cy="137.9" r="5.95"/><circle cx="499.9" cy="131.9" r="5.95"/><circle cx="500.3" cy="138.3" r="5.95"/><circle cx="500.4" cy="138.6" r="5.95"/><circle cx="500.5" cy="131.3" r="5.95"/><circle cx="500.7" cy="140.9" r="5.95"/><circle cx="501.1" cy="141" r="5.95"/><circle cx="501.2" cy="132.6" r="5.95"/><circle cx="501.5" cy="139.2" r="5.95"/><circle cx="501.9" cy="142.4" r="5.95"/><circle cx="502.1" cy="135" r="5.95"/><circle cx="502.2" cy="138.1" r="5.95"/><circle cx="502.4" cy="142.8" r="5.95"/><circle cx="502.8" cy="130.4" r="5.95"/><circle cx="503.1" cy="135.5" r="5.95"/><circle cx="503.3" cy="140.6" r="5.95"/><circle cx="503.4" cy="131.9" r="5.95"/><circle cx="503.8" cy="133.1" r="5.95"/><circle cx="503.9" cy="140.8" r="5.95"/><circle cx="504" cy="129.3" r="5.95"/><circle cx="504.5" cy="129.6" r="5.95"/><circle cx="504.5" cy="137.5" r="5.95"/><circle cx="504.9" cy="132.2" r="5.95"/><circle cx="505.1" cy="130.9" r="5.95"/><circle cx="505.3" cy="135.3" r="5.95"/><circle cx="505.4" cy="132.3" r="5.95"/><circle cx="506" cy="133.8" r="5.95"/><circle cx="506.1" cy="133.2" r="5.95"/><circle cx="506.1" cy="134.7" r="5.95"/><circle cx="506.4" cy="132.2" r="5.95"/><circle cx="506.5" cy="130.9" r="5.95"/><circle cx="507" cy="131" r="5.95"/><circle cx="507.4" cy="134" r="5.95"/><circle cx="507.4" cy="131.4" r="5.95"/><circle cx="507.7" cy="129.9" r="5.95"/><circle cx="507.7" cy="130.9" r="5.95"/><circle cx="508.1" cy="126.5" r="5.95"/><circle cx="508.4" cy="133.8" r="5.95"/><circle cx="508.5" cy="140.3" r="5.95"/><circle cx="508.6" cy="132.1" r="5.95"/><circle cx="509.1" cy="128.4" r="5.95"/><circle cx="509.4" cy="124.3" r="5.95"/><circle cx="509.5" cy="133.8" r="5.95"/><circle cx="509.7" cy="129.5" r="5.95"/><circle cx="510.1" cy="133.5" r="5.95"/><circle cx="510.1" cy="132.9" r="5.95"/><circle cx="510.4" cy="127.8" r="5.95"/><circle cx="510.8" cy="131.5" r="5.95"/><circle cx="510.9" cy="130.2" r="5.95"/><circle cx="511.1" cy="127.9" r="5.95"/><circle cx="511.3" cy="134.2" r="5.95"/><circle cx="511.4" cy="128.1" r="5.95"/><circle cx="511.7" cy="126" r="5.95"/><circle cx="512.2" cy="132.7" r="5.95"/><circle cx="512.3" cy="127.1" r="5.95"/><circle cx="121.9" cy="103.8" r="5.95"/><circle cx="136.6" cy="116" r="5.95"/><circle cx="131.1" cy="98.3" r="5.95"/><circle cx="130.7" cy="86.3" r="5.95"/><circle cx="128.5" cy="154.2" r="5.95"/><circle cx="140.5" cy="159.7" r="5.95"/><circle cx="158" cy="166.2" r="5.95"/><circle cx="174.5" cy="179.4" r="5.95"/><circle cx="188.7" cy="194.8" r="5.95"/><circle cx="208.5" cy="205.7" r="5.95"/><circle cx="220.5" cy="207.9" r="5.95"/><circle cx="233.7" cy="227.6" r="5.95"/><circle cx="252.3" cy="255" r="5.95"/><circle cx="275.3" cy="271.5" r="5.95"/><circle cx="290.6" cy="275.8" r="5.95"/><circle cx="303.8" cy="276.9" r="5.95"/><circle cx="156.5" cy="129" r="5.95"/><circle cx="188.3" cy="156.4" r="5.95"/><circle cx="224.9" cy="179.4" r="5.95"/><circle cx="239.6" cy="194.3" r="5.95"/><circle cx="246.8" cy="213.4" r="5.95"/><circle cx="300.5" cy="248.4" r="5.95"/></g>
<text x="0" y="29.4" font-size="39" class="b" stroke="#000" stroke-width="1" stroke-linejoin="round" textLength="20.3" lengthAdjust="spacingAndGlyphs">a</text>
</g>
<rect x="106.5" y="22.5" width="403.9" height="426.3" fill="none" stroke="#000" stroke-width="1.4"/>
<line x1="100.2" y1="63.2" x2="106.5" y2="63.2" stroke="#000" stroke-width="1.4"/>
<line x1="100.2" y1="144.3" x2="106.5" y2="144.3" stroke="#000" stroke-width="1.4"/>
<line x1="100.2" y1="225.5" x2="106.5" y2="225.5" stroke="#000" stroke-width="1.4"/>
<line x1="100.2" y1="306.6" x2="106.5" y2="306.6" stroke="#000" stroke-width="1.4"/>
<line x1="100.2" y1="387.8" x2="106.5" y2="387.8" stroke="#000" stroke-width="1.4"/>
<line x1="106.5" y1="448.8" x2="106.5" y2="455.1" stroke="#000" stroke-width="1.4"/>
<line x1="207.5" y1="448.8" x2="207.5" y2="455.1" stroke="#000" stroke-width="1.4"/>
<line x1="308.4" y1="448.8" x2="308.4" y2="455.1" stroke="#000" stroke-width="1.4"/>
<line x1="409.4" y1="448.8" x2="409.4" y2="455.1" stroke="#000" stroke-width="1.4"/>
<line x1="510.4" y1="448.8" x2="510.4" y2="455.1" stroke="#000" stroke-width="1.4"/>
<text x="57.2" y="70.6" font-size="23.1" textLength="31.1" lengthAdjust="spacingAndGlyphs">1.8</text>
<text x="56.1" y="151.8" font-size="23.1" textLength="32.2" lengthAdjust="spacingAndGlyphs">1.6</text>
<text x="55.3" y="232.9" font-size="23.1" textLength="32.7" lengthAdjust="spacingAndGlyphs">1.4</text>
<text x="59.1" y="314" font-size="23.1" textLength="29.3" lengthAdjust="spacingAndGlyphs">1.2</text>
<text x="55.6" y="395.2" font-size="23.1" textLength="32.6" lengthAdjust="spacingAndGlyphs">1.0</text>
<text x="85" y="483.9" font-size="23.1" textLength="42.7" lengthAdjust="spacingAndGlyphs">−1.0</text>
<text x="183.3" y="483.9" font-size="23.1" textLength="48.2" lengthAdjust="spacingAndGlyphs">−0.5</text>
<text x="300.5" y="483.9" font-size="23.1" textLength="15.8" lengthAdjust="spacingAndGlyphs">0</text>
<text x="391.8" y="483.9" font-size="23.1" textLength="35.3" lengthAdjust="spacingAndGlyphs">0.5</text>
<text x="493.7" y="483.9" font-size="23.1" textLength="32.6" lengthAdjust="spacingAndGlyphs">1.0</text>
<text x="248.5" y="526.8" font-size="27.6" class="i" textLength="16.1" lengthAdjust="spacingAndGlyphs">B</text>
<text x="272.5" y="526.8" font-size="27.6" textLength="56.4" lengthAdjust="spacingAndGlyphs">field</text>
<text x="335.7" y="526.8" font-size="27.6" textLength="33.2" lengthAdjust="spacingAndGlyphs">(T)</text>
<text x="-2.5" y="0" font-size="27.6" textLength="7.2" lengthAdjust="spacingAndGlyphs" transform="translate(35.8 316.7) rotate(-90)">|</text>
<text x="-1.1" y="0" font-size="27.6" textLength="7.7" lengthAdjust="spacingAndGlyphs" transform="translate(35.8 310.3) rotate(-90)" class="i">I</text>
<text x="-0.3" y="0" font-size="16.2" textLength="19.8" lengthAdjust="spacingAndGlyphs" transform="translate(43.8 301.5) rotate(-90)">TC</text>
<text x="-2.5" y="0" font-size="27.6" textLength="7.2" lengthAdjust="spacingAndGlyphs" transform="translate(35.8 279.4) rotate(-90)">|</text>
<text x="-1.7" y="0" font-size="27.6" textLength="9.2" lengthAdjust="spacingAndGlyphs" transform="translate(35.8 266.7) rotate(-90)">(</text>
<text x="-1.5" y="0" font-size="27.6" textLength="12.7" lengthAdjust="spacingAndGlyphs" transform="translate(35.8 256.5) rotate(-90)">×</text>
<text x="-1.7" y="0" font-size="27.6" textLength="24.4" lengthAdjust="spacingAndGlyphs" transform="translate(35.8 242.3) rotate(-90)">10</text>
<text x="-0.8" y="0" font-size="16.2" textLength="29" lengthAdjust="spacingAndGlyphs" transform="translate(23 215) rotate(-90)">−10</text>
<text x="-0.1" y="0" font-size="27.6" textLength="19.2" lengthAdjust="spacingAndGlyphs" transform="translate(35.8 177.4) rotate(-90)">A</text>
<text x="-0.2" y="0" font-size="27.6" textLength="9.2" lengthAdjust="spacingAndGlyphs" transform="translate(35.8 159.7) rotate(-90)">)</text>
<circle class="cb" cx="246.3" cy="53.1" r="6.05" style="stroke-width:2.5"/>
<text x="265.3" y="61.9" font-size="27.6" class="i" textLength="16" lengthAdjust="spacingAndGlyphs">V</text>
<text x="282.1" y="70.8" font-size="16" textLength="11.6" lengthAdjust="spacingAndGlyphs">g</text>
<text x="300.7" y="61.9" font-size="27.6" textLength="13.6" lengthAdjust="spacingAndGlyphs">=</text>
<circle class="cr" cx="246.3" cy="87.2" r="6.05" style="stroke-width:2.5"/>
<text x="265.3" y="96" font-size="27.6" class="i" textLength="16" lengthAdjust="spacingAndGlyphs">V</text>
<text x="282.1" y="105" font-size="16" textLength="11.6" lengthAdjust="spacingAndGlyphs">g</text>
<text x="300.7" y="96" font-size="27.6" textLength="13.6" lengthAdjust="spacingAndGlyphs">=</text>
<circle class="cy" cx="246.3" cy="121.4" r="6.05" style="stroke-width:2.5"/>
<text x="265.3" y="130.2" font-size="27.6" class="i" textLength="16" lengthAdjust="spacingAndGlyphs">V</text>
<text x="282.1" y="139.1" font-size="16" textLength="11.6" lengthAdjust="spacingAndGlyphs">g</text>
<text x="300.7" y="130.2" font-size="27.6" textLength="13.6" lengthAdjust="spacingAndGlyphs">=</text>
<text x="320.8" y="61.9" font-size="27.6" textLength="30.7" lengthAdjust="spacingAndGlyphs">−6</text>
<text x="359.8" y="61.9" font-size="27.6" textLength="16" lengthAdjust="spacingAndGlyphs">V</text>
<text x="320.8" y="96" font-size="27.6" textLength="30.7" lengthAdjust="spacingAndGlyphs">−3</text>
<text x="359.8" y="96" font-size="27.6" textLength="16" lengthAdjust="spacingAndGlyphs">V</text>
<text x="319.5" y="130.2" font-size="27.6" textLength="11.1" lengthAdjust="spacingAndGlyphs">1</text>
<text x="340.1" y="130.2" font-size="27.6" textLength="15.4" lengthAdjust="spacingAndGlyphs">V</text>
<text x="175.8" y="321.8" font-size="22.3" fill="#8b0000" textLength="25.6" lengthAdjust="spacingAndGlyphs">×4</text>
<text x="372.2" y="393.7" font-size="22" fill="#ffa500" textLength="39" lengthAdjust="spacingAndGlyphs">×70</text>
<text x="0" y="29.4" font-size="39" class="b" stroke="#000" stroke-width="1" stroke-linejoin="round" textLength="20.3" lengthAdjust="spacingAndGlyphs">a</text>
</g>
<g id="panel-b">
<g clip-path="url(#cb)">
<path d="M855.2,276.5 L852.4,276.4 L849.7,276 L847.2,275.2 L844.8,274 L842.5,272.5 L840.3,270.7 L838.3,268.7 L836.4,266.5 L834.6,264.3 L833,262 L831.4,259.6 L829.9,257.3 L828.5,254.9 L827.2,252.5 L825.9,250 L824.6,247.5 L823.4,245.1 L822.3,242.6 L821.1,240.1 L820,237.5 L818.8,235 L817.7,232.4 L816.6,229.9 L815.6,227.3 L814.5,224.8 L813.4,222.2 L812.3,219.6 L811.3,217 L810.2,214.4 L809.2,211.8 L808.2,209.3 L807.1,206.7 L806.1,204.1 L805,201.5 L804,198.9 L802.9,196.3 L801.9,193.8 L800.8,191.2 L799.8,188.7 L798.7,186.1 L797.6,183.6 L796.5,181 L795.4,178.5 L794.3,176 L793.2,173.5 L792,170.9 L790.9,168.4 L789.7,165.9 L788.5,163.4 L787.4,160.9 L786.2,158.4 L784.9,155.9 L783.7,153.4 L782.5,150.8 L781.2,148.3 L779.9,145.8 L778.6,143.3 L777.3,140.8 L775.8,138.4 L774.3,136 L772.7,133.7 L770.9,131.6 L769,129.5 L766.9,127.6 L764.7,126 L762.3,124.5 L759.8,123.4 L757.3,122.6 L754.7,122.3 L752.2,122.5 L749.7,123.2 L747.3,124.4 L744.9,125.9 L742.7,127.7 L740.6,129.8 L738.7,132 L736.9,134.3 L735.2,136.6 L733.7,139 L732.4,141.4 L731.1,143.9 L729.9,146.4 L728.7,148.9 L727.6,151.5 L726.6,154.1 L725.6,156.6 L724.5,159.2 L723.6,161.8 L722.6,164.4 L721.7,167 L720.7,169.6 L719.8,172.2 L718.9,174.9 L718.1,177.5 L717.2,180.1 L716.4,182.8 L715.6,185.4 L714.8,188.1 L714,190.8 L713.3,193.4 L712.5,196.1 L711.8,198.8 L711.1,201.5 L710.3,204.2 L709.6,206.8 L709,209.5 L708.3,212.2 L707.6,214.9 L707,217.6 L706.3,220.3 L705.7,223.1 L705,225.8 L704.4,228.5 L703.8,231.2 L703.2,233.9 L702.6,236.6 L701.9,239.3 L701.3,242 L700.8,244.8 L700.2,247.5 L699.6,250.2 L699,252.9 L698.4,255.6 L697.8,258.4 L697.3,261.1 L696.7,263.8 L696.2,266.5 L695.6,269.3 L695.1,272 L694.5,274.7 L694,277.4 L693.5,280.2 L692.9,282.9 L692.4,285.6 L691.9,288.4 L691.4,291.1 L690.8,293.8 L690.3,296.5 L689.8,299.3 L689.3,302 L688.8,304.8 L688.4,307.5 L687.9,310.2 L687.4,313 L686.9,315.7 L686.4,318.4 L686,321.2 L685.5,323.9 L685,326.7 L684.6,329.4 L684.1,332.1 L683.6,334.9 L683.2,337.6 L682.8,340.4 L682.3,343.1 L681.9,345.8 L681.4,348.6 L681,351.3 L680.6,354.1 L680.1,356.8 L679.7,359.6 L679.3,362.3 L678.9,365.1 L678.5,367.8 L678,370.6 L677.6,373.3 L677.2,376.1 L676.8,378.8 L676.4,381.6 L676,384.3 L675.6,387.1 L675.2,389.8 L674.8,392.6 L674.4,395.3 L674.1,398.1 L673.7,400.8 L673.3,403.6 L672.9,406.3 L672.5,409.1 L672.1,411.8 L671.8,414.6 L671.4,417.3 L671,420.1 L670.7,422.9 L670.3,425.6 L669.9,428.4 L669.6,431.1 L669.2,433.9 L668.8,436.6 L668.5,439.4 L668.1,442.1 L667.8,444.9 L667.4,447.7 L667.1,450.4 L666.7,453.2 L666.4,455.9 L666,458.7 L665.7,461.5 L665.3,464.2 L665,467 L664.6,469.7 L664.3,472.5 L663.9,475.2 L663.6,478" fill="none" stroke="#000080" stroke-width="3.3" stroke-linejoin="round" stroke-dasharray="6.3 5.2"/>
<path d="M855.2,276.5 L857.9,276.3 L860.7,275.8 L863.4,275 L866,273.9 L868.5,272.6 L870.8,271 L872.9,269.3 L874.8,267.4 L876.6,265.3 L878.3,263.1 L879.9,260.9 L881.3,258.5 L882.7,256.1 L884.1,253.6 L885.4,251.1 L886.7,248.6 L887.9,246.1 L889.2,243.5 L890.3,241 L891.5,238.4 L892.7,235.8 L893.8,233.3 L894.9,230.7 L896,228.1 L897,225.5 L898.1,222.9 L899.2,220.3 L900.2,217.7 L901.3,215.2 L902.3,212.6 L903.3,210 L904.4,207.5 L905.4,205 L906.4,202.4 L907.5,199.9 L908.5,197.4 L909.6,194.9 L910.6,192.4 L911.7,189.8 L912.7,187.3 L913.8,184.8 L914.9,182.3 L915.9,179.7 L917,177.2 L918.1,174.7 L919.2,172.1 L920.4,169.6 L921.5,167 L922.6,164.4 L923.8,161.8 L924.9,159.2 L926.1,156.5 L927.3,153.9 L928.5,151.3 L929.8,148.6 L931.1,146.1 L932.4,143.5 L933.8,141 L935.3,138.6 L936.8,136.3 L938.4,134.1 L940.2,132 L942,130 L943.9,128.2 L945.9,126.5 L948.1,125 L950.4,123.6 L952.8,122.5 L955.4,121.6 L958,121 L960.7,120.8 L963.3,121.1 L965.8,121.9 L968.2,123.3 L970.4,125.1 L972.4,127.1 L974.3,129.3 L976.1,131.6 L977.7,133.9 L979.3,136.3 L980.7,138.7 L982.1,141.2 L983.3,143.7 L984.5,146.3 L985.7,148.8 L986.8,151.4 L987.9,154 L988.9,156.6 L989.9,159.2 L990.9,161.8 L991.9,164.4 L992.8,167 L993.7,169.6 L994.6,172.3 L995.5,174.9 L996.3,177.6 L997.1,180.2 L997.9,182.9 L998.7,185.5 L999.5,188.2 L1000.3,190.8 L1001,193.5 L1001.8,196.2 L1002.5,198.9 L1003.3,201.5 L1004,204.2 L1004.7,206.9 L1005.4,209.6 L1006.1,212.2 L1006.8,214.9 L1007.5,217.6 L1008.1,220.3 L1008.8,223 L1009.4,225.7 L1010.1,228.4 L1010.7,231.1 L1011.4,233.8 L1012,236.5 L1012.6,239.2 L1013.2,241.9 L1013.8,244.6 L1014.4,247.3 L1015,250.1 L1015.6,252.8 L1016.2,255.5 L1016.8,258.2 L1017.3,260.9 L1017.9,263.7 L1018.4,266.4 L1019,269.1 L1019.5,271.8 L1020.1,274.6 L1020.6,277.3 L1021.1,280 L1021.7,282.8 L1022.2,285.5 L1022.7,288.2 L1023.2,291 L1023.7,293.7 L1024.2,296.4 L1024.7,299.2 L1025.2,301.9 L1025.7,304.6 L1026.1,307.4 L1026.6,310.1 L1027.1,312.9 L1027.6,315.6 L1028,318.4 L1028.5,321.1 L1029,323.9 L1029.4,326.6 L1029.9,329.3 L1030.3,332.1 L1030.8,334.8 L1031.2,337.6 L1031.7,340.3 L1032.1,343.1 L1032.5,345.8 L1033,348.6 L1033.4,351.3 L1033.8,354.1 L1034.3,356.8 L1034.7,359.6 L1035.1,362.3 L1035.5,365.1 L1036,367.8 L1036.4,370.6 L1036.8,373.3 L1037.2,376.1 L1037.6,378.9 L1038.1,381.6 L1038.5,384.3 L1038.9,387.1 L1039.3,389.8 L1039.7,392.6 L1040.2,395.3 L1040.6,398.1 L1041,400.8 L1041.4,403.6 L1041.8,406.3 L1042.2,409.1 L1042.7,411.8 L1043.1,414.6 L1043.5,417.3 L1043.9,420.1 L1044.3,422.8 L1044.8,425.5 L1045.2,428.3 L1045.6,431 L1046.1,433.8 L1046.5,436.5 L1046.9,439.2 L1047.3,442 L1047.8,444.7 L1048.2,447.4" fill="none" stroke="#000080" stroke-width="3.3" stroke-linejoin="round" stroke-dasharray="6.3 5.2"/>
<path d="M659.5,480 L660.2,474.8 L660.8,469.5 L661.5,464.3 L662.1,459 L662.8,453.8 L663.4,448.5 L664.1,443.3 L664.8,438 L665.4,432.8 L666.1,427.5 L666.8,422.3 L667.5,417.1 L668.2,411.8 L668.9,406.6 L669.6,401.4 L670.3,396.1 L671,390.9 L671.7,385.7 L672.5,380.4 L673.2,375.2 L673.9,370 L674.7,364.7 L675.4,359.5 L676.2,354.3 L677,349.1 L677.7,343.9 L678.5,338.6 L679.3,333.4 L680.1,328.2 L680.9,323 L681.7,317.8 L682.6,312.5 L683.4,307.3 L684.2,302.1 L685.1,296.9 L685.9,291.7 L686.8,286.5 L687.7,281.2 L688.6,276 L689.4,270.8 L690.3,265.6 L691.3,260.4 L692.2,255.2 L693.1,250 L694,244.8 L695,239.5 L696,234.3 L697,229.1 L698,223.9 L699,218.7 L700,213.6 L701.1,208.4 L702.2,203.2 L703.4,198 L704.5,192.9 L705.8,187.8 L707,182.7 L708.3,177.6 L709.7,172.5 L711.1,167.4 L712.5,162.4 L714,157.3 L715.5,152.3 L717.2,147.3 L718.8,142.3 L720.5,137.4 L722.3,132.4 L724.1,127.4 L726,122.3 L727.9,117.3 L729.9,112.2 L732.1,107.3 L734.7,102.6 L737.7,98.2 L741.3,94.3 L745.5,91.1 L750.1,89 L754.9,88.2 L759.6,89.1 L764.1,91.5 L768.2,95 L771.8,98.9 L774.9,103.3 L777.7,107.8 L780.2,112.6 L782.5,117.5 L784.7,122.4 L786.9,127.3 L789.1,132.1 L791.3,136.9 L793.5,141.7 L795.6,146.4 L797.7,151.3 L799.7,156.1 L801.6,161 L803.4,165.9 L805.3,170.9 L807.1,175.8 L808.8,180.8 L810.6,185.8 L812.4,190.8 L814.1,195.8 L815.9,200.8 L817.7,205.8 L819.5,210.8 L821.3,215.7 L823.2,220.7 L825.2,225.6 L827.2,230.5 L829.3,235.4 L831.4,240.2 L833.7,245 L836.1,249.7 L838.7,254.3 L841.5,258.7 L844.6,263 L848,267 L851.7,270.7 L855.9,274.1 L860,271.1 L863.7,267.6 L867.1,264 L870.2,260.1 L873.1,256.1 L875.7,251.9 L878.1,247.6 L880.4,243.1 L882.5,238.6 L884.5,234 L886.4,229.3 L888.2,224.6 L890,219.8 L891.7,215.1 L893.4,210.4 L895.1,205.6 L896.8,200.9 L898.4,196.2 L900.1,191.5 L901.8,186.7 L903.4,182 L905.1,177.4 L906.8,172.7 L908.6,168 L910.3,163.3 L912.1,158.7 L913.9,154 L915.8,149.4 L917.7,144.8 L919.6,140.1 L921.6,135.5 L923.6,130.9 L925.6,126.3 L927.7,121.7 L929.7,117.2 L931.9,112.6 L934.1,108 L936.5,103.6 L939.2,99.4 L942.3,95.4 L946,91.8 L950.1,88.9 L954.6,86.9 L959.2,86.4 L963.8,87.4 L968.1,89.6 L972,92.9 L975.3,96.8 L978.3,101 L980.9,105.4 L983.2,109.9 L985.4,114.4 L987.3,119.1 L989.1,123.7 L990.8,128.4 L992.5,133.1 L994.1,137.9 L995.7,142.6 L997.2,147.4 L998.6,152.2 L1000.1,157 L1001.4,161.8 L1002.8,166.6 L1004.1,171.4 L1005.4,176.3 L1006.6,181.1 L1007.8,186 L1009,190.9 L1010.2,195.7 L1011.3,200.6 L1012.4,205.5 L1013.5,210.4 L1014.6,215.3 L1015.7,220.1 L1016.7,225 L1017.7,229.9 L1018.7,234.8 L1019.7,239.8 L1020.7,244.7 L1021.6,249.6 L1022.5,254.5 L1023.4,259.4 L1024.3,264.4 L1025.2,269.3 L1026.1,274.2 L1026.9,279.2 L1027.8,284.1 L1028.6,289 L1029.5,294 L1030.3,298.9 L1031.1,303.9 L1031.9,308.8 L1032.6,313.8 L1033.4,318.7 L1034.2,323.7 L1035,328.6 L1035.7,333.6 L1036.5,338.5 L1037.2,343.5 L1038,348.4 L1038.7,353.4 L1039.5,358.4 L1040.2,363.3 L1041,368.3 L1041.7,373.2 L1042.4,378.2 L1043.2,383.1 L1043.9,388.1 L1044.7,393 L1045.4,398 L1046.2,402.9 L1047,407.9 L1047.7,412.8 L1048.5,417.8 L1049.3,422.7 L1050.1,427.6 L1050.9,432.6 L1051.7,437.5 L1052.5,442.5" fill="none" stroke="#000080" stroke-width="5.1" stroke-linejoin="miter"/>
</g>
<rect x="660.3" y="27.9" width="391.6" height="423.9" fill="none" stroke="#000" stroke-width="1.6"/>
<line x1="660.3" y1="63" x2="675.6" y2="63" stroke="#000" stroke-width="1.5"/>
<line x1="660.3" y1="133.7" x2="675.6" y2="133.7" stroke="#000" stroke-width="1.5"/>
<line x1="660.3" y1="204.3" x2="675.6" y2="204.3" stroke="#000" stroke-width="1.5"/>
<line x1="660.3" y1="275" x2="675.6" y2="275" stroke="#000" stroke-width="1.5"/>
<line x1="660.3" y1="345.7" x2="675.6" y2="345.7" stroke="#000" stroke-width="1.5"/>
<line x1="660.3" y1="416.3" x2="675.6" y2="416.3" stroke="#000" stroke-width="1.5"/>
<line x1="725.6" y1="451.8" x2="725.6" y2="436.2" stroke="#000" stroke-width="1.5"/>
<line x1="790.8" y1="451.8" x2="790.8" y2="436.2" stroke="#000" stroke-width="1.5"/>
<line x1="856" y1="451.8" x2="856" y2="436.2" stroke="#000" stroke-width="1.5"/>
<line x1="921.2" y1="451.8" x2="921.2" y2="436.2" stroke="#000" stroke-width="1.5"/>
<line x1="986.4" y1="451.8" x2="986.4" y2="436.2" stroke="#000" stroke-width="1.5"/>
<text x="618.2" y="70.2" font-size="23.1" textLength="30.2" lengthAdjust="spacingAndGlyphs">60</text>
<text x="618.2" y="140.9" font-size="23.1" textLength="30.3" lengthAdjust="spacingAndGlyphs">40</text>
<text x="618.3" y="211.5" font-size="23.1" textLength="30.1" lengthAdjust="spacingAndGlyphs">20</text>
<text x="632.7" y="282.2" font-size="23.1" textLength="15.8" lengthAdjust="spacingAndGlyphs">0</text>
<text x="606.7" y="352.9" font-size="23.1" textLength="41.7" lengthAdjust="spacingAndGlyphs">−20</text>
<text x="605.7" y="423.5" font-size="23.1" textLength="42.7" lengthAdjust="spacingAndGlyphs">−40</text>
<text x="714.1" y="483.9" font-size="27.6" textLength="23" lengthAdjust="spacingAndGlyphs">M</text>
<text x="0" y="8" font-size="25.3" text-anchor="middle" stroke="#000" stroke-width="0.55" transform="translate(790.8 474.4) scale(1 1.3)" style="font-family:'DejaVu Sans','Liberation Sans',sans-serif;font-weight:200">←</text>
<text x="847.7" y="483.9" font-size="27.6" textLength="15.2" lengthAdjust="spacingAndGlyphs">Γ</text>
<text x="0" y="8" font-size="25.3" text-anchor="middle" stroke="#000" stroke-width="0.55" transform="translate(921.2 474.4) scale(1 1.3)" style="font-family:'DejaVu Sans','Liberation Sans',sans-serif;font-weight:200">→</text>
<text x="976.2" y="483.9" font-size="27.6" textLength="18.4" lengthAdjust="spacingAndGlyphs">K</text>
<text x="-2.3" y="0" font-size="27.6" textLength="88.5" lengthAdjust="spacingAndGlyphs" transform="translate(587.5 322.7) rotate(-90)">Energy</text>
<text x="-1.7" y="0" font-size="27.6" textLength="76.7" lengthAdjust="spacingAndGlyphs" transform="translate(587.5 228.2) rotate(-90)">(meV)</text>
<text x="787" y="66.8" font-size="26.5" textLength="116.2" lengthAdjust="spacingAndGlyphs">3L γ-InSe</text>
<text x="852.4" y="413.1" font-size="22.5" textLength="51.6" lengthAdjust="spacingAndGlyphs">0.1 Å</text>
<text x="905.4" y="402" font-size="13.5" textLength="13.7" lengthAdjust="spacingAndGlyphs">−1</text>
<line x1="863.4" y1="427.2" x2="913.6" y2="427.2" stroke="#44546a" stroke-width="2.2"/>
<path d="M855.9,427.2 L868.4,422 L864.9,427.2 L868.4,432.4 Z" fill="#44546a"/>
<path d="M921.1,427.2 L908.6,422 L912.1,427.2 L908.6,432.4 Z" fill="#44546a"/>
<text x="556.6" y="29.6" font-size="39" class="b" stroke="#000" stroke-width="1" stroke-linejoin="round" textLength="26.9" lengthAdjust="spacingAndGlyphs">b</text>
</g>
<g id="panel-c">
<g clip-path="url(#cc)">
<path d="M1396.2,131.1 L1392.5,139 L1388.9,146.9 L1385.4,154.9 L1381.9,162.9 L1378.6,170.9 L1375.3,179 L1372,187.1 L1368.9,195.2 L1365.8,203.3 L1362.8,211.5 L1359.8,219.7 L1356.9,227.9 L1354.1,236.1 L1351.3,244.4 L1348.6,252.7 L1345.9,261 L1343.3,269.3 L1340.8,277.6 L1338.3,286 L1335.8,294.3 L1333.4,302.7 L1331.1,311.1 L1328.7,319.5 L1326.5,327.9 L1324.2,336.3 L1322,344.8 L1319.9,353.2 L1317.7,361.7 L1315.6,370.2 L1313.6,378.6 L1311.5,387.1 L1309.5,395.6 L1307.5,404.1 L1305.5,412.5 L1303.6,421 L1301.6,429.5 L1299.7,438 L1297.8,446.5 L1295.9,455" fill="none" stroke="#000080" stroke-width="3.3" stroke-linejoin="round" stroke-dasharray="6.2 5.3"/>
<path d="M1396.9,131.1 L1400.9,139 L1404.7,147 L1408.4,155 L1412.1,163 L1415.6,171.1 L1419.1,179.2 L1422.5,187.3 L1425.8,195.5 L1429.1,203.7 L1432.3,211.9 L1435.5,220.2 L1438.6,228.4 L1441.7,236.7 L1444.7,245 L1447.7,253.3 L1450.7,261.6 L1453.6,269.9 L1456.5,278.3 L1459.3,286.6 L1462.1,295 L1464.9,303.4 L1467.6,311.8 L1470.3,320.2 L1473,328.6 L1475.6,337 L1478.2,345.5 L1480.8,353.9 L1483.3,362.4 L1485.8,370.8 L1488.2,379.3 L1490.7,387.8 L1493.1,396.3 L1495.4,404.8 L1497.8,413.3 L1500.1,421.8 L1502.3,430.4 L1504.6,438.9 L1506.8,447.5 L1509,456" fill="none" stroke="#000080" stroke-width="3.3" stroke-linejoin="round" stroke-dasharray="6.2 5.3"/>
<path d="M1195,285 L1201.3,264.5 L1222.6,200.5 L1236.4,162.9 L1251.4,129.1 L1266.5,102.7 L1280.3,83.9 L1295.3,70.1 L1310.4,62.1 L1324.2,60.6 L1337.9,63.9 L1353,72.6 L1368,87.7 L1381.8,106.5 L1396.6,131.3 L1410.7,110.3 L1425.7,90.2 L1439.5,77.6 L1452.1,70.1 L1463.3,65.9 L1472.1,64.6 L1480.9,65.9 L1493.4,70.1 L1508.5,78.9 L1523.5,92.7 L1538.6,110.3 L1558.6,140.3 L1576.2,172.9 L1592.5,206.8 L1600,223" fill="none" stroke="#000080" stroke-width="5.1" stroke-linejoin="miter"/>
</g>
<rect x="1201.5" y="25" width="390.5" height="424" fill="none" stroke="#000" stroke-width="1.6"/>
<line x1="1201.5" y1="59.9" x2="1216.8" y2="59.9" stroke="#000" stroke-width="1.5"/>
<line x1="1201.5" y1="130.6" x2="1216.8" y2="130.6" stroke="#000" stroke-width="1.5"/>
<line x1="1201.5" y1="201.3" x2="1216.8" y2="201.3" stroke="#000" stroke-width="1.5"/>
<line x1="1201.5" y1="271.9" x2="1216.8" y2="271.9" stroke="#000" stroke-width="1.5"/>
<line x1="1201.5" y1="342.6" x2="1216.8" y2="342.6" stroke="#000" stroke-width="1.5"/>
<line x1="1201.5" y1="413.3" x2="1216.8" y2="413.3" stroke="#000" stroke-width="1.5"/>
<line x1="1266.6" y1="449" x2="1266.6" y2="433.4" stroke="#000" stroke-width="1.5"/>
<line x1="1331.8" y1="449" x2="1331.8" y2="433.4" stroke="#000" stroke-width="1.5"/>
<line x1="1397" y1="449" x2="1397" y2="433.4" stroke="#000" stroke-width="1.5"/>
<line x1="1462.2" y1="449" x2="1462.2" y2="433.4" stroke="#000" stroke-width="1.5"/>
<line x1="1527.3" y1="449" x2="1527.3" y2="433.4" stroke="#000" stroke-width="1.5"/>
<text x="1159.1" y="68.1" font-size="23.1" textLength="30.1" lengthAdjust="spacingAndGlyphs">20</text>
<text x="1173.5" y="138.8" font-size="23.1" textLength="15.8" lengthAdjust="spacingAndGlyphs">0</text>
<text x="1147.5" y="209.5" font-size="23.1" textLength="41.7" lengthAdjust="spacingAndGlyphs">−20</text>
<text x="1146.5" y="280.1" font-size="23.1" textLength="42.7" lengthAdjust="spacingAndGlyphs">−40</text>
<text x="1147.2" y="350.8" font-size="23.1" textLength="42" lengthAdjust="spacingAndGlyphs">−60</text>
<text x="1147" y="421.5" font-size="23.1" textLength="42.2" lengthAdjust="spacingAndGlyphs">−80</text>
<text x="1258.3" y="483.7" font-size="27.6" textLength="15.2" lengthAdjust="spacingAndGlyphs">Γ</text>
<text x="0" y="8" font-size="25.3" text-anchor="middle" stroke="#000" stroke-width="0.55" transform="translate(1331.8 474.2) scale(1 1.3)" style="font-family:'DejaVu Sans','Liberation Sans',sans-serif;font-weight:200">←</text>
<text x="1386.8" y="483.7" font-size="27.6" textLength="18.4" lengthAdjust="spacingAndGlyphs">K</text>
<text x="0" y="8" font-size="25.3" text-anchor="middle" stroke="#000" stroke-width="0.55" transform="translate(1462.2 474.2) scale(1 1.3)" style="font-family:'DejaVu Sans','Liberation Sans',sans-serif;font-weight:200">→</text>
<text x="1515.8" y="483.7" font-size="27.6" textLength="23" lengthAdjust="spacingAndGlyphs">M</text>
<text x="-2.2" y="0" font-size="27.6" textLength="85.5" lengthAdjust="spacingAndGlyphs" transform="translate(1127.5 320) rotate(-90)">Energy</text>
<text x="-1.8" y="0" font-size="27.6" textLength="77.5" lengthAdjust="spacingAndGlyphs" transform="translate(1127.5 225.9) rotate(-90)">(meV)</text>
<text x="1359.4" y="63.9" font-size="27.6" textLength="53.6" lengthAdjust="spacingAndGlyphs">hBN</text>
<text x="1292.8" y="125.3" font-size="27.6" textLength="57.6" lengthAdjust="spacingAndGlyphs">Spin</text>
<text x="1245.2" y="156.6" font-size="27.6" textLength="151.3" lengthAdjust="spacingAndGlyphs">degeneracy</text>
<text x="1388.8" y="407.2" font-size="22.5" textLength="71.8" lengthAdjust="spacingAndGlyphs">0.05 Å</text>
<text x="1462.1" y="396" font-size="13.5" textLength="12" lengthAdjust="spacingAndGlyphs">−1</text>
<line x1="1404.5" y1="423.7" x2="1455.7" y2="423.7" stroke="#44546a" stroke-width="2.2"/>
<path d="M1397,423.7 L1409.5,418.5 L1406,423.7 L1409.5,428.9 Z" fill="#44546a"/>
<path d="M1463.2,423.7 L1450.7,418.5 L1454.2,423.7 L1450.7,428.9 Z" fill="#44546a"/>
<text x="1101.8" y="29.2" font-size="39" class="b" stroke="#000" stroke-width="1" stroke-linejoin="round" textLength="23.3" lengthAdjust="spacingAndGlyphs">c</text>
</g>
<g id="panel-d">
<rect x="106.2" y="587" width="404.2" height="426" fill="none" stroke="#262626" stroke-width="1.5"/>
<line x1="99.9" y1="598" x2="106.2" y2="598" stroke="#262626" stroke-width="1.4"/>
<line x1="99.9" y1="718.9" x2="106.2" y2="718.9" stroke="#262626" stroke-width="1.4"/>
<line x1="99.9" y1="839.8" x2="106.2" y2="839.8" stroke="#262626" stroke-width="1.4"/>
<line x1="99.9" y1="960.7" x2="106.2" y2="960.7" stroke="#262626" stroke-width="1.4"/>
<line x1="106.2" y1="1013" x2="106.2" y2="1019.5" stroke="#262626" stroke-width="1.4"/>
<line x1="224.7" y1="1013" x2="224.7" y2="1019.5" stroke="#262626" stroke-width="1.4"/>
<line x1="343.2" y1="1013" x2="343.2" y2="1019.5" stroke="#262626" stroke-width="1.4"/>
<line x1="461.7" y1="1013" x2="461.7" y2="1019.5" stroke="#262626" stroke-width="1.4"/>
<text x="48.5" y="604.9" font-size="23.1" textLength="36.7" lengthAdjust="spacingAndGlyphs">0.3</text>
<text x="49.5" y="725.8" font-size="23.1" textLength="35.8" lengthAdjust="spacingAndGlyphs">0.2</text>
<text x="54.6" y="846.7" font-size="23.1" textLength="30.4" lengthAdjust="spacingAndGlyphs">0.1</text>
<text x="69.3" y="967.6" font-size="23.1" textLength="15.8" lengthAdjust="spacingAndGlyphs">0</text>
<text x="81.9" y="1048.6" font-size="23.1" textLength="48.4" lengthAdjust="spacingAndGlyphs">−5.0</text>
<text x="202.5" y="1048.6" font-size="23.1" textLength="44.1" lengthAdjust="spacingAndGlyphs">−2.5</text>
<text x="335.3" y="1048.6" font-size="23.1" textLength="15.8" lengthAdjust="spacingAndGlyphs">0</text>
<text x="445.3" y="1048.6" font-size="23.1" textLength="32.7" lengthAdjust="spacingAndGlyphs">2.5</text>
<text x="248.4" y="1091.1" font-size="27.6" class="i" textLength="16.2" lengthAdjust="spacingAndGlyphs">B</text>
<text x="273" y="1091.1" font-size="27.6" textLength="55.4" lengthAdjust="spacingAndGlyphs">field</text>
<text x="335.8" y="1091.1" font-size="27.6" textLength="32.6" lengthAdjust="spacingAndGlyphs">(T)</text>
<text x="-0.8" y="0" font-size="27.6" textLength="19" lengthAdjust="spacingAndGlyphs" transform="translate(23.8 862.6) rotate(-90)">Δ</text>
<text x="-0.6" y="0" font-size="27.6" textLength="13.3" lengthAdjust="spacingAndGlyphs" transform="translate(23.8 844.1) rotate(-90)" class="i">E</text>
<text x="-0.6" y="0" font-size="20" textLength="12.1" lengthAdjust="spacingAndGlyphs" transform="translate(32.2 829.7) rotate(-90)" class="i">B</text>
<text x="-1.9" y="0" font-size="27.6" textLength="84.2" lengthAdjust="spacingAndGlyphs" transform="translate(23.8 817.9) rotate(-90)">(meV)</text>
<g class="cb" style="stroke-width:2.6"><circle cx="173.9" cy="605.7" r="7.25"/><circle cx="198.1" cy="635.7" r="7.25"/><circle cx="222.6" cy="675" r="7.25"/><circle cx="246.4" cy="686.2" r="7.25"/><circle cx="270.1" cy="736.4" r="7.25"/><circle cx="294" cy="796.5" r="7.25"/><circle cx="318" cy="861.8" r="7.25"/><circle cx="342.3" cy="924.9" r="7.25"/><circle cx="353.4" cy="941" r="7.25"/></g>
<g class="cr" style="stroke-width:2.6"><circle cx="373" cy="965.8" r="7.25"/><circle cx="392" cy="921.4" r="7.25"/><circle cx="411.6" cy="886" r="7.25"/><circle cx="430.9" cy="840.2" r="7.25"/><circle cx="449.9" cy="788.7" r="7.25"/><circle cx="468.9" cy="753.1" r="7.25"/><circle cx="488.4" cy="718.6" r="7.25"/></g>
<line x1="173.9" y1="597.5" x2="354.3" y2="944" stroke="#000080" stroke-width="4.6" stroke-dasharray="16.6 7.4"/>
<line x1="352.5" y1="984.5" x2="503.3" y2="691.2" stroke="#8b0000" stroke-width="4.6" stroke-dasharray="16.6 7.4"/>
<line x1="309.7" y1="691.8" x2="365.7" y2="691.8" stroke="#000" stroke-width="2.5"/>
<line x1="320.6" y1="698.1" x2="320.6" y2="760.7" stroke="#9a9a9a" stroke-width="1.4"/>
<line x1="317.1" y1="698.1" x2="324.1" y2="698.1" stroke="#9a9a9a" stroke-width="1.5"/>
<line x1="317.1" y1="760.7" x2="324.1" y2="760.7" stroke="#9a9a9a" stroke-width="1.5"/>
<line x1="371" y1="736.1" x2="371" y2="758.5" stroke="#9a9a9a" stroke-width="1.4"/>
<line x1="367.4" y1="736.1" x2="374.6" y2="736.1" stroke="#9a9a9a" stroke-width="1.5"/>
<line x1="367.4" y1="758.5" x2="374.6" y2="758.5" stroke="#9a9a9a" stroke-width="1.5"/>
<line x1="382.1" y1="734.6" x2="438.9" y2="734.6" stroke="#cd5c5c" stroke-width="3.2"/>
<line x1="383.2" y1="760.6" x2="437.2" y2="760.6" stroke="#000" stroke-width="2.6" stroke-dasharray="6.9 6.4" stroke-dashoffset="3.3"/>
<line x1="382.1" y1="786" x2="438.9" y2="786" stroke="#4169e1" stroke-width="3.2"/>
<text x="280.2" y="731" font-size="25" style="font-family:'DejaVu Sans','Liberation Sans',sans-serif;font-style:italic">ϕ</text>
<text x="296.5" y="737.6" font-size="14" class="i" textLength="8.3" lengthAdjust="spacingAndGlyphs">B</text>
<text x="305" y="741.8" font-size="10.8" textLength="7.3" lengthAdjust="spacingAndGlyphs">0</text>
<text x="327.1" y="751.9" font-size="23.6" textLength="14.8" lengthAdjust="spacingAndGlyphs">Δ</text>
<text x="342.9" y="751.9" font-size="23.6" class="i" textLength="11.9" lengthAdjust="spacingAndGlyphs">E</text>
<text x="355.4" y="760.7" font-size="14" class="i" textLength="8.6" lengthAdjust="spacingAndGlyphs">B</text>
<line x1="119.7" y1="792.2" x2="175.7" y2="792.2" stroke="#000" stroke-width="2.5"/>
<line x1="145.5" y1="798.5" x2="145.5" y2="861.1" stroke="#9a9a9a" stroke-width="1.4"/>
<line x1="142" y1="798.5" x2="149" y2="798.5" stroke="#9a9a9a" stroke-width="1.5"/>
<line x1="142" y1="861.1" x2="149" y2="861.1" stroke="#9a9a9a" stroke-width="1.5"/>
<line x1="198.2" y1="836.5" x2="198.2" y2="858.9" stroke="#9a9a9a" stroke-width="1.4"/>
<line x1="194.6" y1="836.5" x2="201.8" y2="836.5" stroke="#9a9a9a" stroke-width="1.5"/>
<line x1="194.6" y1="858.9" x2="201.8" y2="858.9" stroke="#9a9a9a" stroke-width="1.5"/>
<line x1="210" y1="835" x2="266.8" y2="835" stroke="#4169e1" stroke-width="3.2"/>
<line x1="211.1" y1="861" x2="265.1" y2="861" stroke="#000" stroke-width="2.6" stroke-dasharray="6.9 6.4" stroke-dashoffset="3.3"/>
<line x1="210" y1="886.4" x2="266.8" y2="886.4" stroke="#cd5c5c" stroke-width="3.2"/>
<text x="107.2" y="833.5" font-size="25" style="font-family:'DejaVu Sans','Liberation Sans',sans-serif;font-style:italic">ϕ</text>
<text x="123.5" y="839.7" font-size="14" class="i" textLength="8.3" lengthAdjust="spacingAndGlyphs">B</text>
<text x="132.2" y="844.3" font-size="10.8" textLength="7.3" lengthAdjust="spacingAndGlyphs">0</text>
<text x="154" y="852.3" font-size="23.6" textLength="14.8" lengthAdjust="spacingAndGlyphs">Δ</text>
<text x="169.7" y="852.3" font-size="23.6" class="i" textLength="11.9" lengthAdjust="spacingAndGlyphs">E</text>
<text x="182.5" y="861.1" font-size="14" class="i" textLength="8.6" lengthAdjust="spacingAndGlyphs">B</text>
<text x="265.4" y="636.5" font-size="27.8" fill="#8b0000" class="i" textLength="15.8" lengthAdjust="spacingAndGlyphs">g</text>
<text x="282.3" y="626" font-size="19.5" fill="#8b0000" textLength="7.1" lengthAdjust="spacingAndGlyphs">*</text>
<text x="289.3" y="644.9" font-size="19.7" fill="#8b0000" textLength="27.6" lengthAdjust="spacingAndGlyphs">h,+</text>
<text x="323.6" y="636.5" font-size="27.8" fill="#8b0000" textLength="13.7" lengthAdjust="spacingAndGlyphs">=</text>
<text x="343.5" y="636.5" font-size="27.8" fill="#8b0000" textLength="48.2" lengthAdjust="spacingAndGlyphs">1.22</text>
<text x="399.2" y="636.5" font-size="27.8" fill="#8b0000" textLength="13.4" lengthAdjust="spacingAndGlyphs">±</text>
<text x="421.6" y="636.5" font-size="27.8" fill="#8b0000" textLength="60.2" lengthAdjust="spacingAndGlyphs">0.09</text>
<text x="118.4" y="995.8" font-size="27.8" fill="#0a0a96" class="i" textLength="14.3" lengthAdjust="spacingAndGlyphs">g</text>
<text x="134" y="985.3" font-size="19.5" fill="#0a0a96" textLength="7.6" lengthAdjust="spacingAndGlyphs">*</text>
<text x="141.6" y="1004.2" font-size="19.7" fill="#0a0a96" textLength="27.8" lengthAdjust="spacingAndGlyphs">h,−</text>
<text x="175.2" y="995.8" font-size="27.8" fill="#0a0a96" textLength="14.2" lengthAdjust="spacingAndGlyphs">=</text>
<text x="194.5" y="995.8" font-size="27.8" fill="#0a0a96" textLength="54.1" lengthAdjust="spacingAndGlyphs">1.20</text>
<text x="254.5" y="995.8" font-size="27.8" fill="#0a0a96" textLength="14.9" lengthAdjust="spacingAndGlyphs">±</text>
<text x="278" y="995.8" font-size="27.8" fill="#0a0a96" textLength="50.1" lengthAdjust="spacingAndGlyphs">0.12</text>
<text x="-0.6" y="590" font-size="39" class="b" stroke="#000" stroke-width="1" stroke-linejoin="round" textLength="26.3" lengthAdjust="spacingAndGlyphs">d</text>
</g>
<g id="panel-e">
<g clip-path="url(#ce)">
<path d="M640,922.2 L849.4,922.2 L855,641.4 L860.8,922.2 L860.9,921.7 L865.1,922.2 L869.3,922.8 L873.5,923.4 L877.7,924 L882,924.7 L886.3,925.5 L890.6,926.2 L895,926.9 L899.3,927.6 L903.7,928.1 L908.1,928.4 L912.4,928.5 L916.7,928.4 L921,927.9 L925.1,927.2 L929.3,926.1 L933.3,924.8 L937.3,923.2 L941.2,921.4 L945,919.4 L948.7,917.2 L952.3,914.8 L955.8,912.3 L959.3,909.6 L962.6,906.8 L965.8,903.9 L968.9,901 L971.9,897.9 L974.8,894.8 L977.7,891.6 L980.4,888.3 L983.1,885 L985.8,881.6 L988.3,878.1 L990.8,874.6 L993.3,871.1 L995.7,867.5 L998.1,863.9 L1000.5,860.3 L1002.9,856.6 L1005.2,853 L1007.5,849.3 L1009.9,845.6 L1012.2,842 L1014.5,838.3 L1016.9,834.6 L1019.2,831 L1021.6,827.4 L1024.1,823.8 L1026.6,820.3 L1029.1,816.8 L1031.7,813.4 L1034.3,810 L1037,806.6 L1039.8,803.3 L1042.6,800.1 L1045.6,797 L1048.6,794 L1051.7,791" fill="none" stroke="#cd5c5c" stroke-width="2.9" stroke-linejoin="miter"/>
<path d="M855,922.5 L849.5,922.2 L640,922.2" fill="none" stroke="#009e73" stroke-width="3.1" stroke-linejoin="round" stroke-dasharray="6 5.5"/>
<path d="M854.9,922.8 L858.8,923.3 L862.7,923.8 L866.6,924.2 L870.5,924.7 L874.3,925.1 L878.2,925.5 L882,925.9 L885.8,926.3 L889.6,926.7 L893.4,927.1 L897.2,927.6 L901,928.1 L904.8,928.6 L908.6,929.2 L912.4,929.8 L916.2,930.5 L920,931.3 L923.9,932.1 L927.7,933 L931.6,934 L935.4,935 L939.3,935.9 L943.2,936.7 L947,937.4 L950.8,937.8 L954.5,937.9 L958.2,937.6 L961.8,937 L965.4,935.8 L968.8,934.3 L972.2,932.4 L975.3,930.1 L978.4,927.7 L981.2,924.9 L983.9,922.1 L986.4,919.1 L988.7,915.9 L990.8,912.7 L992.9,909.3 L994.8,905.9 L996.6,902.5 L998.3,898.9 L1000,895.4 L1001.6,891.8 L1003.2,888.2 L1004.8,884.7 L1006.3,881.1 L1007.9,877.6 L1009.5,874 L1011,870.5 L1012.5,867 L1014,863.4 L1015.5,859.9 L1017,856.4 L1018.4,852.8 L1019.8,849.2 L1021.3,845.6 L1022.6,842 L1024,838.4 L1025.4,834.8 L1026.7,831.1 L1028.1,827.5 L1029.4,823.8 L1030.7,820.2 L1032.1,816.5 L1033.4,812.9 L1034.7,809.2 L1036.1,805.6 L1037.4,801.9 L1038.8,798.3 L1040.1,794.6 L1041.5,791 L1042.9,787.4 L1044.3,783.8 L1045.7,780.2 L1047.2,776.6 L1048.6,773 L1050.1,769.5 L1051.6,766" fill="none" stroke="#009e73" stroke-width="3.1" stroke-linejoin="round" stroke-dasharray="6 5.5"/>
<path d="M855,641.4 L849.6,922.2 L640,922.2" fill="none" stroke="#4169e1" stroke-width="4.9" stroke-linejoin="miter" stroke-dasharray="17.5 8.6"/>
<path d="M855,641.4 L861,922.2 L866.1,924 L871.1,925.6 L876.2,927.1 L881.2,928.5 L886.3,929.8 L891.4,931.1 L896.5,932.2 L901.6,933.4 L906.9,934.5 L912.2,935.5 L917.5,936.5 L922.9,937.3 L928.3,937.9 L933.6,938 L938.8,937.5 L943.8,936.4 L948.6,934.6 L953.1,932.1 L957.2,929 L961,925.4 L964.5,921.3 L967.6,916.9 L970.4,912.4 L973,907.8 L975.4,903 L977.6,898.2 L979.7,893.3 L981.6,888.3 L983.5,883.4 L985.4,878.4 L987.2,873.4 L989,868.4 L990.8,863.4 L992.5,858.4 L994.2,853.4 L995.8,848.3 L997.5,843.3 L999.1,838.2 L1000.6,833.2 L1002.2,828.1 L1003.7,823.1 L1005.2,818 L1006.7,812.9 L1008.1,807.8 L1009.5,802.7 L1010.9,797.6 L1012.3,792.5 L1013.7,787.4 L1015,782.3 L1016.3,777.1 L1017.6,772 L1018.9,766.9 L1020.2,761.7 L1021.4,756.6 L1022.7,751.5 L1023.9,746.3 L1025.1,741.2 L1026.4,736 L1027.6,730.8 L1028.8,725.7 L1030,720.5 L1031.1,715.4 L1032.3,710.2 L1033.5,705 L1034.7,699.9 L1035.8,694.7 L1037,689.5 L1038.2,684.4 L1039.3,679.2 L1040.5,674 L1041.7,668.9 L1042.9,663.7 L1044.1,658.5 L1045.2,653.4 L1046.4,648.2 L1047.6,643.1 L1048.9,637.9 L1050.1,632.7 L1051.3,627.6" fill="none" stroke="#4169e1" stroke-width="4.9" stroke-linejoin="miter" stroke-dasharray="17.5 8.6"/>
</g>
<rect x="658.3" y="586.9" width="393.6" height="427.1" fill="none" stroke="#000" stroke-width="1.6"/>
<line x1="658.3" y1="617.9" x2="673.6" y2="617.9" stroke="#000" stroke-width="1.5"/>
<line x1="658.3" y1="678.8" x2="673.6" y2="678.8" stroke="#000" stroke-width="1.5"/>
<line x1="658.3" y1="739.6" x2="673.6" y2="739.6" stroke="#000" stroke-width="1.5"/>
<line x1="658.3" y1="800.5" x2="673.6" y2="800.5" stroke="#000" stroke-width="1.5"/>
<line x1="658.3" y1="861.3" x2="673.6" y2="861.3" stroke="#000" stroke-width="1.5"/>
<line x1="658.3" y1="922.2" x2="673.6" y2="922.2" stroke="#000" stroke-width="1.5"/>
<line x1="658.3" y1="983" x2="673.6" y2="983" stroke="#000" stroke-width="1.5"/>
<line x1="723.9" y1="1014" x2="723.9" y2="998.2" stroke="#000" stroke-width="1.5"/>
<line x1="789.3" y1="1014" x2="789.3" y2="998.2" stroke="#000" stroke-width="1.5"/>
<line x1="854.8" y1="1014" x2="854.8" y2="998.2" stroke="#000" stroke-width="1.5"/>
<line x1="920.2" y1="1014" x2="920.2" y2="998.2" stroke="#000" stroke-width="1.5"/>
<line x1="985.6" y1="1014" x2="985.6" y2="998.2" stroke="#000" stroke-width="1.5"/>
<text x="615.5" y="624.7" font-size="23.1" textLength="32.6" lengthAdjust="spacingAndGlyphs">1.0</text>
<text x="611.8" y="685.6" font-size="23.1" textLength="36.6" lengthAdjust="spacingAndGlyphs">0.8</text>
<text x="611.8" y="746.4" font-size="23.1" textLength="36.6" lengthAdjust="spacingAndGlyphs">0.6</text>
<text x="611" y="807.3" font-size="23.1" textLength="37" lengthAdjust="spacingAndGlyphs">0.4</text>
<text x="612.7" y="868.1" font-size="23.1" textLength="35.8" lengthAdjust="spacingAndGlyphs">0.2</text>
<text x="632.5" y="929" font-size="23.1" textLength="15.8" lengthAdjust="spacingAndGlyphs">0</text>
<text x="600.5" y="989.8" font-size="23.1" textLength="47.9" lengthAdjust="spacingAndGlyphs">−0.2</text>
<text x="712.4" y="1047.9" font-size="27.6" textLength="23" lengthAdjust="spacingAndGlyphs">M</text>
<text x="0" y="8" font-size="25.3" text-anchor="middle" stroke="#000" stroke-width="0.55" transform="translate(789.3 1038.4) scale(1 1.3)" style="font-family:'DejaVu Sans','Liberation Sans',sans-serif;font-weight:200">←</text>
<text x="846.5" y="1047.9" font-size="27.6" textLength="15.2" lengthAdjust="spacingAndGlyphs">Γ</text>
<text x="0" y="8" font-size="25.3" text-anchor="middle" stroke="#000" stroke-width="0.55" transform="translate(920.2 1038.4) scale(1 1.3)" style="font-family:'DejaVu Sans','Liberation Sans',sans-serif;font-weight:200">→</text>
<text x="975.4" y="1047.9" font-size="27.6" textLength="18.4" lengthAdjust="spacingAndGlyphs">K</text>
<text x="-0.1" y="0" font-size="27.6" textLength="224.9" lengthAdjust="spacingAndGlyphs" transform="translate(581.2 912.8) rotate(-90)">Angular momenta</text>
<text x="708.5" y="627.9" font-size="26.8" class="i">S</text>
<text x="726.1" y="636.5" font-size="17.5" class="i">z</text>
<line x1="748.5" y1="618.6" x2="811.6" y2="618.6" stroke="#cd5c5c" stroke-width="3.1"/>
<text x="708.5" y="664.6" font-size="26.8" class="i">L</text>
<text x="722.5" y="672" font-size="17.5" class="i">z</text>
<line x1="748.5" y1="656.8" x2="811.6" y2="656.8" stroke="#009e73" stroke-width="3.1" stroke-dasharray="6 5.5"/>
<text x="708.5" y="703" font-size="26.8" class="i">g</text>
<text x="725.9" y="711.6" font-size="17.5" class="i">z</text>
<line x1="748.5" y1="694.9" x2="811.6" y2="694.9" stroke="#4169e1" stroke-width="4.9" stroke-dasharray="17.5 8.6"/>
<text x="899.2" y="976.1" font-size="22.6" class="i" textLength="13.8" lengthAdjust="spacingAndGlyphs">g</text>
<text x="914" y="983.8" font-size="13.4" class="i" textLength="7.1" lengthAdjust="spacingAndGlyphs">z</text>
<text x="927" y="976.1" font-size="22.6" textLength="11.5" lengthAdjust="spacingAndGlyphs">=</text>
<text x="943.7" y="976.1" font-size="22.6" textLength="63.6" lengthAdjust="spacingAndGlyphs">−0.05</text>
<text x="557.5" y="590.1" font-size="39" class="b" stroke="#000" stroke-width="1" stroke-linejoin="round" textLength="24.8" lengthAdjust="spacingAndGlyphs">e</text>
</g>
<g id="panel-f">
<g clip-path="url(#cf)">
<line x1="1195" y1="620.3" x2="1600" y2="620.3" stroke="#cd5c5c" stroke-width="2.9"/>
<line x1="1400.1" y1="620.3" x2="1190" y2="620.3" stroke="#4169e1" stroke-width="4.9" stroke-dasharray="17.5 8.6"/>
<line x1="1400.1" y1="620.3" x2="1600" y2="620.3" stroke="#4169e1" stroke-width="4.9" stroke-dasharray="17.5 8.6"/>
<line x1="1400.1" y1="921.1" x2="1190" y2="921.1" stroke="#009e73" stroke-width="3.1" stroke-dasharray="6 5.58"/>
<line x1="1400.1" y1="921.1" x2="1600" y2="921.1" stroke="#009e73" stroke-width="3.1" stroke-dasharray="6 5.58"/>
</g>
<rect x="1206" y="590.2" width="388" height="420.7" fill="none" stroke="#000" stroke-width="1.6"/>
<line x1="1206" y1="619.9" x2="1221" y2="619.9" stroke="#000" stroke-width="1.5"/>
<line x1="1206" y1="680.1" x2="1221" y2="680.1" stroke="#000" stroke-width="1.5"/>
<line x1="1206" y1="740.3" x2="1221" y2="740.3" stroke="#000" stroke-width="1.5"/>
<line x1="1206" y1="800.5" x2="1221" y2="800.5" stroke="#000" stroke-width="1.5"/>
<line x1="1206" y1="860.6" x2="1221" y2="860.6" stroke="#000" stroke-width="1.5"/>
<line x1="1206" y1="920.8" x2="1221" y2="920.8" stroke="#000" stroke-width="1.5"/>
<line x1="1206" y1="981" x2="1221" y2="981" stroke="#000" stroke-width="1.5"/>
<line x1="1270.5" y1="1010.9" x2="1270.5" y2="996.1" stroke="#000" stroke-width="1.5"/>
<line x1="1335.3" y1="1010.9" x2="1335.3" y2="996.1" stroke="#000" stroke-width="1.5"/>
<line x1="1400.1" y1="1010.9" x2="1400.1" y2="996.1" stroke="#000" stroke-width="1.5"/>
<line x1="1464.9" y1="1010.9" x2="1464.9" y2="996.1" stroke="#000" stroke-width="1.5"/>
<line x1="1529.5" y1="1010.9" x2="1529.5" y2="996.1" stroke="#000" stroke-width="1.5"/>
<text x="1156.7" y="627.2" font-size="23.1" textLength="32.6" lengthAdjust="spacingAndGlyphs">1.0</text>
<text x="1153" y="687.4" font-size="23.1" textLength="36.6" lengthAdjust="spacingAndGlyphs">0.8</text>
<text x="1153" y="747.6" font-size="23.1" textLength="36.6" lengthAdjust="spacingAndGlyphs">0.6</text>
<text x="1152.2" y="807.8" font-size="23.1" textLength="37" lengthAdjust="spacingAndGlyphs">0.4</text>
<text x="1153.9" y="867.9" font-size="23.1" textLength="35.8" lengthAdjust="spacingAndGlyphs">0.2</text>
<text x="1173.7" y="928.1" font-size="23.1" textLength="15.8" lengthAdjust="spacingAndGlyphs">0</text>
<text x="1141.7" y="988.3" font-size="23.1" textLength="47.9" lengthAdjust="spacingAndGlyphs">−0.2</text>
<text x="1262.2" y="1048.3" font-size="27.6" textLength="15.2" lengthAdjust="spacingAndGlyphs">Γ</text>
<text x="0" y="8" font-size="25.3" text-anchor="middle" stroke="#000" stroke-width="0.55" transform="translate(1335.3 1038.8) scale(1 1.3)" style="font-family:'DejaVu Sans','Liberation Sans',sans-serif;font-weight:200">←</text>
<text x="1389.9" y="1048.3" font-size="27.6" textLength="18.4" lengthAdjust="spacingAndGlyphs">K</text>
<text x="0" y="8" font-size="25.3" text-anchor="middle" stroke="#000" stroke-width="0.55" transform="translate(1464.9 1038.8) scale(1 1.3)" style="font-family:'DejaVu Sans','Liberation Sans',sans-serif;font-weight:200">→</text>
<text x="1518" y="1048.3" font-size="27.6" textLength="23" lengthAdjust="spacingAndGlyphs">M</text>
<text x="-0.1" y="0" font-size="27.6" textLength="224.9" lengthAdjust="spacingAndGlyphs" transform="translate(1125.1 912.8) rotate(-90)">Angular momenta</text>
<text x="1456.7" y="668.6" font-size="26.8" class="i">S</text>
<text x="1474.3" y="677.2" font-size="17.5" class="i">z</text>
<line x1="1496.9" y1="659.3" x2="1559.7" y2="659.3" stroke="#cd5c5c" stroke-width="3.1"/>
<text x="1456.7" y="705.4" font-size="26.8" class="i">L</text>
<text x="1470.7" y="712.8" font-size="17.5" class="i">z</text>
<line x1="1496.9" y1="697.5" x2="1559.7" y2="697.5" stroke="#009e73" stroke-width="3.1" stroke-dasharray="6 5.5"/>
<text x="1456.7" y="743.7" font-size="26.8" class="i">g</text>
<text x="1474.1" y="752.3" font-size="17.5" class="i">z</text>
<line x1="1496.9" y1="735.6" x2="1559.7" y2="735.6" stroke="#4169e1" stroke-width="4.9" stroke-dasharray="17.5 8.6"/>
<text x="1102.8" y="589.7" font-size="39" class="b" stroke="#000" stroke-width="1" stroke-linejoin="round" textLength="13.6" lengthAdjust="spacingAndGlyphs">f</text>
</g>
</svg>
</body></html>
